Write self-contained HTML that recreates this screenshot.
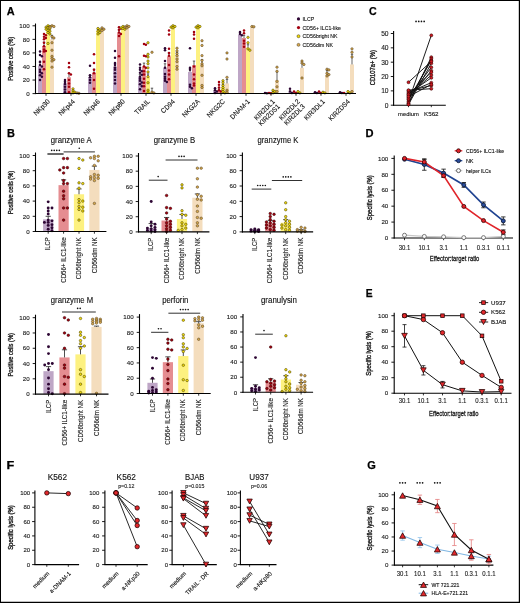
<!DOCTYPE html>
<html><head><meta charset="utf-8"><style>
html,body{margin:0;padding:0;background:#fff;}
svg{display:block;will-change:transform;}
</style></head><body>
<svg width="520" height="603" viewBox="0 0 520 603">
<rect x="0" y="0" width="520" height="603" fill="#fff"/>
<g font-family='"Liberation Sans", sans-serif' fill="#111">
<text x="6.88" y="14.5" font-size="10.9" font-weight="bold" textLength="7.88" lengthAdjust="spacingAndGlyphs" fill="#000" stroke="#000" stroke-width="0.25">A</text>
<line x1="35.5" y1="23.5" x2="35.5" y2="94.1" stroke="#000" stroke-width="1.1"/>
<line x1="32.5" y1="93.6" x2="35.5" y2="93.6" stroke="#000" stroke-width="0.9"/>
<text x="29.6" y="95.82" font-size="6.2" text-anchor="end" fill="#1a1a1a" stroke="#1a1a1a" stroke-width="0.12">0</text>
<line x1="32.5" y1="80.04" x2="35.5" y2="80.04" stroke="#000" stroke-width="0.9"/>
<text x="29.6" y="82.26" font-size="6.2" text-anchor="end" fill="#1a1a1a" stroke="#1a1a1a" stroke-width="0.12">20</text>
<line x1="32.5" y1="66.48" x2="35.5" y2="66.48" stroke="#000" stroke-width="0.9"/>
<text x="29.6" y="68.7" font-size="6.2" text-anchor="end" fill="#1a1a1a" stroke="#1a1a1a" stroke-width="0.12">40</text>
<line x1="32.5" y1="52.92" x2="35.5" y2="52.92" stroke="#000" stroke-width="0.9"/>
<text x="29.6" y="55.14" font-size="6.2" text-anchor="end" fill="#1a1a1a" stroke="#1a1a1a" stroke-width="0.12">60</text>
<line x1="32.5" y1="39.36" x2="35.5" y2="39.36" stroke="#000" stroke-width="0.9"/>
<text x="29.6" y="41.58" font-size="6.2" text-anchor="end" fill="#1a1a1a" stroke="#1a1a1a" stroke-width="0.12">80</text>
<line x1="32.5" y1="25.8" x2="35.5" y2="25.8" stroke="#000" stroke-width="0.9"/>
<text x="29.6" y="28.02" font-size="6.2" text-anchor="end" fill="#1a1a1a" stroke="#1a1a1a" stroke-width="0.12">100</text>
<text x="12.8" y="58.8" font-size="6.6" text-anchor="middle" transform="rotate(-90 12.8 58.8)" textLength="44" lengthAdjust="spacingAndGlyphs" stroke="#111" stroke-width="0.3">Positive cells (%)</text>
<rect x="38" y="65.8" width="4" height="27.8" fill="#bea6c6"/>
<rect x="42" y="46.14" width="4" height="47.46" fill="#e58d91"/>
<rect x="46" y="27.83" width="4" height="65.77" fill="#fdf180"/>
<rect x="50" y="39.36" width="4" height="54.24" fill="#f4ddbd"/>
<line x1="40" y1="65.8" x2="40" y2="62.41" stroke="#222" stroke-width="0.7"/>
<line x1="38.8" y1="62.41" x2="41.2" y2="62.41" stroke="#222" stroke-width="0.7"/>
<line x1="44" y1="46.14" x2="44" y2="42.07" stroke="#222" stroke-width="0.7"/>
<line x1="42.8" y1="42.07" x2="45.2" y2="42.07" stroke="#222" stroke-width="0.7"/>
<line x1="48" y1="27.83" x2="48" y2="26.82" stroke="#222" stroke-width="0.7"/>
<line x1="46.8" y1="26.82" x2="49.2" y2="26.82" stroke="#222" stroke-width="0.7"/>
<line x1="52" y1="39.36" x2="52" y2="35.29" stroke="#222" stroke-width="0.7"/>
<line x1="50.8" y1="35.29" x2="53.2" y2="35.29" stroke="#222" stroke-width="0.7"/>
<circle cx="40" cy="51.56" r="1.25" fill="#2d0633"/>
<circle cx="40" cy="54.95" r="1.25" fill="#2d0633"/>
<circle cx="41.9" cy="56.31" r="1.25" fill="#2d0633"/>
<circle cx="40" cy="61.73" r="1.25" fill="#2d0633"/>
<circle cx="40" cy="65.12" r="1.25" fill="#2d0633"/>
<circle cx="41.9" cy="66.48" r="1.25" fill="#2d0633"/>
<circle cx="40" cy="69.87" r="1.25" fill="#2d0633"/>
<circle cx="40" cy="71.9" r="1.25" fill="#2d0633"/>
<circle cx="41.9" cy="73.26" r="1.25" fill="#2d0633"/>
<circle cx="40" cy="75.29" r="1.25" fill="#2d0633"/>
<circle cx="41.9" cy="76.65" r="1.25" fill="#2d0633"/>
<circle cx="40" cy="80.04" r="1.25" fill="#2d0633"/>
<circle cx="44" cy="33.94" r="1.25" fill="#a3000f"/>
<circle cx="45.9" cy="35.29" r="1.25" fill="#a3000f"/>
<circle cx="44" cy="36.65" r="1.25" fill="#a3000f"/>
<circle cx="45.9" cy="38" r="1.25" fill="#a3000f"/>
<circle cx="44" cy="39.36" r="1.25" fill="#a3000f"/>
<circle cx="44" cy="42.75" r="1.25" fill="#a3000f"/>
<circle cx="44" cy="46.14" r="1.25" fill="#a3000f"/>
<circle cx="44" cy="49.53" r="1.25" fill="#a3000f"/>
<circle cx="45.9" cy="50.89" r="1.25" fill="#a3000f"/>
<circle cx="44" cy="51.56" r="1.25" fill="#a3000f"/>
<circle cx="44" cy="61.73" r="1.25" fill="#a3000f"/>
<circle cx="44" cy="69.19" r="1.25" fill="#a3000f"/>
<circle cx="48" cy="25.8" r="1.2" fill="#f4dc0a" stroke="#3a3300" stroke-width="0.5"/>
<circle cx="49.9" cy="26.48" r="1.2" fill="#f4dc0a" stroke="#3a3300" stroke-width="0.5"/>
<circle cx="46.1" cy="27.16" r="1.2" fill="#f4dc0a" stroke="#3a3300" stroke-width="0.5"/>
<circle cx="48" cy="27.83" r="1.2" fill="#f4dc0a" stroke="#3a3300" stroke-width="0.5"/>
<circle cx="49.9" cy="28.51" r="1.2" fill="#f4dc0a" stroke="#3a3300" stroke-width="0.5"/>
<circle cx="46.1" cy="29.19" r="1.2" fill="#f4dc0a" stroke="#3a3300" stroke-width="0.5"/>
<circle cx="48" cy="30.55" r="1.2" fill="#f4dc0a" stroke="#3a3300" stroke-width="0.5"/>
<circle cx="49.9" cy="31.22" r="1.2" fill="#f4dc0a" stroke="#3a3300" stroke-width="0.5"/>
<circle cx="48" cy="32.58" r="1.2" fill="#f4dc0a" stroke="#3a3300" stroke-width="0.5"/>
<circle cx="49.9" cy="33.94" r="1.2" fill="#f4dc0a" stroke="#3a3300" stroke-width="0.5"/>
<circle cx="48" cy="43.43" r="1.2" fill="#f4dc0a" stroke="#3a3300" stroke-width="0.5"/>
<circle cx="52" cy="25.8" r="1.2" fill="#d8a94c" stroke="#4a3a20" stroke-width="0.5"/>
<circle cx="53.9" cy="26.48" r="1.2" fill="#d8a94c" stroke="#4a3a20" stroke-width="0.5"/>
<circle cx="50.1" cy="27.16" r="1.2" fill="#d8a94c" stroke="#4a3a20" stroke-width="0.5"/>
<circle cx="52" cy="36.65" r="1.2" fill="#d8a94c" stroke="#4a3a20" stroke-width="0.5"/>
<circle cx="53.9" cy="38" r="1.2" fill="#d8a94c" stroke="#4a3a20" stroke-width="0.5"/>
<circle cx="52" cy="42.75" r="1.2" fill="#d8a94c" stroke="#4a3a20" stroke-width="0.5"/>
<circle cx="52" cy="50.21" r="1.2" fill="#d8a94c" stroke="#4a3a20" stroke-width="0.5"/>
<circle cx="52" cy="56.31" r="1.2" fill="#d8a94c" stroke="#4a3a20" stroke-width="0.5"/>
<circle cx="52" cy="58.34" r="1.2" fill="#d8a94c" stroke="#4a3a20" stroke-width="0.5"/>
<circle cx="53.9" cy="59.7" r="1.2" fill="#d8a94c" stroke="#4a3a20" stroke-width="0.5"/>
<circle cx="52" cy="61.06" r="1.2" fill="#d8a94c" stroke="#4a3a20" stroke-width="0.5"/>
<circle cx="52" cy="67.16" r="1.2" fill="#d8a94c" stroke="#4a3a20" stroke-width="0.5"/>
<line x1="46" y1="93.6" x2="46" y2="95.8" stroke="#000" stroke-width="0.8"/>
<text x="50.4" y="102" font-size="6.8" text-anchor="end" transform="rotate(-45 50.4 102)" textLength="19.96" lengthAdjust="spacingAndGlyphs" stroke="#111" stroke-width="0.12">NKp30</text>
<rect x="63" y="83.43" width="4" height="10.17" fill="#bea6c6"/>
<rect x="67" y="77.33" width="4" height="16.27" fill="#e58d91"/>
<rect x="71" y="90.89" width="4" height="2.71" fill="#fdf180"/>
<rect x="75" y="92.92" width="4" height="0.68" fill="#f4ddbd"/>
<line x1="65" y1="83.43" x2="65" y2="81.4" stroke="#222" stroke-width="0.7"/>
<line x1="63.8" y1="81.4" x2="66.2" y2="81.4" stroke="#222" stroke-width="0.7"/>
<line x1="69" y1="77.33" x2="69" y2="73.26" stroke="#222" stroke-width="0.7"/>
<line x1="67.8" y1="73.26" x2="70.2" y2="73.26" stroke="#222" stroke-width="0.7"/>
<line x1="73" y1="90.89" x2="73" y2="90.21" stroke="#222" stroke-width="0.7"/>
<line x1="71.8" y1="90.21" x2="74.2" y2="90.21" stroke="#222" stroke-width="0.7"/>
<line x1="77" y1="92.92" x2="77" y2="92.58" stroke="#222" stroke-width="0.7"/>
<line x1="75.8" y1="92.58" x2="78.2" y2="92.58" stroke="#222" stroke-width="0.7"/>
<circle cx="65" cy="80.04" r="1.25" fill="#2d0633"/>
<circle cx="65" cy="82.07" r="1.25" fill="#2d0633"/>
<circle cx="65" cy="84.11" r="1.25" fill="#2d0633"/>
<circle cx="65" cy="86.82" r="1.25" fill="#2d0633"/>
<circle cx="65" cy="89.53" r="1.25" fill="#2d0633"/>
<circle cx="65" cy="92.24" r="1.25" fill="#2d0633"/>
<circle cx="69" cy="63.09" r="1.25" fill="#a3000f"/>
<circle cx="69" cy="67.16" r="1.25" fill="#a3000f"/>
<circle cx="69" cy="73.26" r="1.25" fill="#a3000f"/>
<circle cx="70.9" cy="74.62" r="1.25" fill="#a3000f"/>
<circle cx="69" cy="80.04" r="1.25" fill="#a3000f"/>
<circle cx="69" cy="83.43" r="1.25" fill="#a3000f"/>
<circle cx="69" cy="86.82" r="1.25" fill="#a3000f"/>
<circle cx="69" cy="92.24" r="1.25" fill="#a3000f"/>
<circle cx="73" cy="88.85" r="1.2" fill="#f4dc0a" stroke="#3a3300" stroke-width="0.5"/>
<circle cx="73" cy="90.89" r="1.2" fill="#f4dc0a" stroke="#3a3300" stroke-width="0.5"/>
<circle cx="74.9" cy="92.24" r="1.2" fill="#f4dc0a" stroke="#3a3300" stroke-width="0.5"/>
<circle cx="73" cy="92.92" r="1.2" fill="#f4dc0a" stroke="#3a3300" stroke-width="0.5"/>
<circle cx="77" cy="92.92" r="1.2" fill="#d8a94c" stroke="#4a3a20" stroke-width="0.5"/>
<circle cx="78.9" cy="93.26" r="1.2" fill="#d8a94c" stroke="#4a3a20" stroke-width="0.5"/>
<line x1="71" y1="93.6" x2="71" y2="95.8" stroke="#000" stroke-width="0.8"/>
<text x="75.4" y="102" font-size="6.8" text-anchor="end" transform="rotate(-45 75.4 102)" textLength="19.96" lengthAdjust="spacingAndGlyphs" stroke="#111" stroke-width="0.12">NKp44</text>
<rect x="88" y="77.33" width="4" height="16.27" fill="#bea6c6"/>
<rect x="92" y="72.58" width="4" height="21.02" fill="#e58d91"/>
<rect x="96" y="30.55" width="4" height="63.05" fill="#fdf180"/>
<rect x="100" y="29.19" width="4" height="64.41" fill="#f4ddbd"/>
<line x1="90" y1="77.33" x2="90" y2="75.29" stroke="#222" stroke-width="0.7"/>
<line x1="88.8" y1="75.29" x2="91.2" y2="75.29" stroke="#222" stroke-width="0.7"/>
<line x1="94" y1="72.58" x2="94" y2="69.19" stroke="#222" stroke-width="0.7"/>
<line x1="92.8" y1="69.19" x2="95.2" y2="69.19" stroke="#222" stroke-width="0.7"/>
<line x1="98" y1="30.55" x2="98" y2="29.19" stroke="#222" stroke-width="0.7"/>
<line x1="96.8" y1="29.19" x2="99.2" y2="29.19" stroke="#222" stroke-width="0.7"/>
<line x1="102" y1="29.19" x2="102" y2="28.51" stroke="#222" stroke-width="0.7"/>
<line x1="100.8" y1="28.51" x2="103.2" y2="28.51" stroke="#222" stroke-width="0.7"/>
<circle cx="90" cy="65.8" r="1.25" fill="#2d0633"/>
<circle cx="90" cy="75.29" r="1.25" fill="#2d0633"/>
<circle cx="90" cy="77.33" r="1.25" fill="#2d0633"/>
<circle cx="90" cy="80.04" r="1.25" fill="#2d0633"/>
<circle cx="90" cy="82.75" r="1.25" fill="#2d0633"/>
<circle cx="94" cy="54.28" r="1.25" fill="#a3000f"/>
<circle cx="94" cy="63.09" r="1.25" fill="#a3000f"/>
<circle cx="94" cy="69.87" r="1.25" fill="#a3000f"/>
<circle cx="94" cy="73.26" r="1.25" fill="#a3000f"/>
<circle cx="94" cy="80.04" r="1.25" fill="#a3000f"/>
<circle cx="94" cy="88.85" r="1.25" fill="#a3000f"/>
<circle cx="98" cy="28.51" r="1.2" fill="#f4dc0a" stroke="#3a3300" stroke-width="0.5"/>
<circle cx="99.9" cy="29.87" r="1.2" fill="#f4dc0a" stroke="#3a3300" stroke-width="0.5"/>
<circle cx="98" cy="31.22" r="1.2" fill="#f4dc0a" stroke="#3a3300" stroke-width="0.5"/>
<circle cx="99.9" cy="32.58" r="1.2" fill="#f4dc0a" stroke="#3a3300" stroke-width="0.5"/>
<circle cx="98" cy="33.94" r="1.2" fill="#f4dc0a" stroke="#3a3300" stroke-width="0.5"/>
<circle cx="102" cy="27.83" r="1.2" fill="#d8a94c" stroke="#4a3a20" stroke-width="0.5"/>
<circle cx="103.9" cy="29.19" r="1.2" fill="#d8a94c" stroke="#4a3a20" stroke-width="0.5"/>
<circle cx="102" cy="30.55" r="1.2" fill="#d8a94c" stroke="#4a3a20" stroke-width="0.5"/>
<line x1="96" y1="93.6" x2="96" y2="95.8" stroke="#000" stroke-width="0.8"/>
<text x="100.4" y="102" font-size="6.8" text-anchor="end" transform="rotate(-45 100.4 102)" textLength="19.96" lengthAdjust="spacingAndGlyphs" stroke="#111" stroke-width="0.12">NKp46</text>
<rect x="113" y="66.48" width="4" height="27.12" fill="#bea6c6"/>
<rect x="117" y="32.58" width="4" height="61.02" fill="#e58d91"/>
<rect x="121" y="28.51" width="4" height="65.09" fill="#fdf180"/>
<rect x="125" y="27.16" width="4" height="66.44" fill="#f4ddbd"/>
<line x1="115" y1="66.48" x2="115" y2="63.77" stroke="#222" stroke-width="0.7"/>
<line x1="113.8" y1="63.77" x2="116.2" y2="63.77" stroke="#222" stroke-width="0.7"/>
<line x1="119" y1="32.58" x2="119" y2="29.87" stroke="#222" stroke-width="0.7"/>
<line x1="117.8" y1="29.87" x2="120.2" y2="29.87" stroke="#222" stroke-width="0.7"/>
<line x1="123" y1="28.51" x2="123" y2="27.83" stroke="#222" stroke-width="0.7"/>
<line x1="121.8" y1="27.83" x2="124.2" y2="27.83" stroke="#222" stroke-width="0.7"/>
<line x1="127" y1="27.16" x2="127" y2="26.48" stroke="#222" stroke-width="0.7"/>
<line x1="125.8" y1="26.48" x2="128.2" y2="26.48" stroke="#222" stroke-width="0.7"/>
<circle cx="115" cy="50.89" r="1.25" fill="#2d0633"/>
<circle cx="115" cy="57.67" r="1.25" fill="#2d0633"/>
<circle cx="115" cy="63.09" r="1.25" fill="#2d0633"/>
<circle cx="115" cy="65.12" r="1.25" fill="#2d0633"/>
<circle cx="115" cy="67.84" r="1.25" fill="#2d0633"/>
<circle cx="115" cy="69.87" r="1.25" fill="#2d0633"/>
<circle cx="115" cy="73.26" r="1.25" fill="#2d0633"/>
<circle cx="115" cy="76.65" r="1.25" fill="#2d0633"/>
<circle cx="115" cy="80.04" r="1.25" fill="#2d0633"/>
<circle cx="115" cy="83.43" r="1.25" fill="#2d0633"/>
<circle cx="119" cy="27.16" r="1.25" fill="#a3000f"/>
<circle cx="120.9" cy="28.51" r="1.25" fill="#a3000f"/>
<circle cx="119" cy="29.87" r="1.25" fill="#a3000f"/>
<circle cx="119" cy="32.58" r="1.25" fill="#a3000f"/>
<circle cx="120.9" cy="33.94" r="1.25" fill="#a3000f"/>
<circle cx="119" cy="35.97" r="1.25" fill="#a3000f"/>
<circle cx="119" cy="56.31" r="1.25" fill="#a3000f"/>
<circle cx="123" cy="26.48" r="1.2" fill="#f4dc0a" stroke="#3a3300" stroke-width="0.5"/>
<circle cx="124.9" cy="27.16" r="1.2" fill="#f4dc0a" stroke="#3a3300" stroke-width="0.5"/>
<circle cx="121.1" cy="27.83" r="1.2" fill="#f4dc0a" stroke="#3a3300" stroke-width="0.5"/>
<circle cx="123" cy="28.51" r="1.2" fill="#f4dc0a" stroke="#3a3300" stroke-width="0.5"/>
<circle cx="124.9" cy="29.19" r="1.2" fill="#f4dc0a" stroke="#3a3300" stroke-width="0.5"/>
<circle cx="127" cy="25.8" r="1.2" fill="#d8a94c" stroke="#4a3a20" stroke-width="0.5"/>
<circle cx="128.9" cy="26.48" r="1.2" fill="#d8a94c" stroke="#4a3a20" stroke-width="0.5"/>
<circle cx="125.1" cy="27.16" r="1.2" fill="#d8a94c" stroke="#4a3a20" stroke-width="0.5"/>
<circle cx="127" cy="27.83" r="1.2" fill="#d8a94c" stroke="#4a3a20" stroke-width="0.5"/>
<line x1="121" y1="93.6" x2="121" y2="95.8" stroke="#000" stroke-width="0.8"/>
<text x="125.4" y="102" font-size="6.8" text-anchor="end" transform="rotate(-45 125.4 102)" textLength="19.96" lengthAdjust="spacingAndGlyphs" stroke="#111" stroke-width="0.12">NKp80</text>
<rect x="138" y="76.65" width="4" height="16.95" fill="#bea6c6"/>
<rect x="142" y="66.48" width="4" height="27.12" fill="#e58d91"/>
<rect x="146" y="77.33" width="4" height="16.27" fill="#fdf180"/>
<rect x="150" y="91.57" width="4" height="2.03" fill="#f4ddbd"/>
<line x1="140" y1="76.65" x2="140" y2="74.62" stroke="#222" stroke-width="0.7"/>
<line x1="138.8" y1="74.62" x2="141.2" y2="74.62" stroke="#222" stroke-width="0.7"/>
<line x1="144" y1="66.48" x2="144" y2="63.09" stroke="#222" stroke-width="0.7"/>
<line x1="142.8" y1="63.09" x2="145.2" y2="63.09" stroke="#222" stroke-width="0.7"/>
<line x1="148" y1="77.33" x2="148" y2="73.94" stroke="#222" stroke-width="0.7"/>
<line x1="146.8" y1="73.94" x2="149.2" y2="73.94" stroke="#222" stroke-width="0.7"/>
<line x1="152" y1="91.57" x2="152" y2="88.18" stroke="#222" stroke-width="0.7"/>
<line x1="150.8" y1="88.18" x2="153.2" y2="88.18" stroke="#222" stroke-width="0.7"/>
<circle cx="140" cy="64.45" r="1.25" fill="#2d0633"/>
<circle cx="140" cy="67.84" r="1.25" fill="#2d0633"/>
<circle cx="140" cy="69.87" r="1.25" fill="#2d0633"/>
<circle cx="141.9" cy="71.23" r="1.25" fill="#2d0633"/>
<circle cx="140" cy="72.85" r="1.25" fill="#2d0633"/>
<circle cx="141.9" cy="74.75" r="1.25" fill="#2d0633"/>
<circle cx="140" cy="76.65" r="1.25" fill="#2d0633"/>
<circle cx="140" cy="78.68" r="1.25" fill="#2d0633"/>
<circle cx="140" cy="80.72" r="1.25" fill="#2d0633"/>
<circle cx="141.9" cy="82.41" r="1.25" fill="#2d0633"/>
<circle cx="140" cy="84.31" r="1.25" fill="#2d0633"/>
<circle cx="141.9" cy="86.14" r="1.25" fill="#2d0633"/>
<circle cx="140" cy="89.13" r="1.25" fill="#2d0633"/>
<circle cx="144" cy="44.11" r="1.25" fill="#a3000f"/>
<circle cx="145.9" cy="44.78" r="1.25" fill="#a3000f"/>
<circle cx="144" cy="55.63" r="1.25" fill="#a3000f"/>
<circle cx="145.9" cy="56.31" r="1.25" fill="#a3000f"/>
<circle cx="144" cy="66.48" r="1.25" fill="#a3000f"/>
<circle cx="145.9" cy="67.84" r="1.25" fill="#a3000f"/>
<circle cx="144" cy="71.23" r="1.25" fill="#a3000f"/>
<circle cx="144" cy="74.62" r="1.25" fill="#a3000f"/>
<circle cx="144" cy="78.68" r="1.25" fill="#a3000f"/>
<circle cx="144" cy="82.75" r="1.25" fill="#a3000f"/>
<circle cx="144" cy="86.14" r="1.25" fill="#a3000f"/>
<circle cx="144" cy="90.89" r="1.25" fill="#a3000f"/>
<circle cx="148" cy="42.75" r="1.2" fill="#f4dc0a" stroke="#3a3300" stroke-width="0.5"/>
<circle cx="148" cy="54.28" r="1.2" fill="#f4dc0a" stroke="#3a3300" stroke-width="0.5"/>
<circle cx="148" cy="56.99" r="1.2" fill="#f4dc0a" stroke="#3a3300" stroke-width="0.5"/>
<circle cx="148" cy="61.06" r="1.2" fill="#f4dc0a" stroke="#3a3300" stroke-width="0.5"/>
<circle cx="148" cy="63.77" r="1.2" fill="#f4dc0a" stroke="#3a3300" stroke-width="0.5"/>
<circle cx="148" cy="67.84" r="1.2" fill="#f4dc0a" stroke="#3a3300" stroke-width="0.5"/>
<circle cx="148" cy="71.9" r="1.2" fill="#f4dc0a" stroke="#3a3300" stroke-width="0.5"/>
<circle cx="148" cy="76.65" r="1.2" fill="#f4dc0a" stroke="#3a3300" stroke-width="0.5"/>
<circle cx="148" cy="82.75" r="1.2" fill="#f4dc0a" stroke="#3a3300" stroke-width="0.5"/>
<circle cx="148" cy="90.21" r="1.2" fill="#f4dc0a" stroke="#3a3300" stroke-width="0.5"/>
<circle cx="148" cy="92.24" r="1.2" fill="#f4dc0a" stroke="#3a3300" stroke-width="0.5"/>
<circle cx="152" cy="52.24" r="1.2" fill="#d8a94c" stroke="#4a3a20" stroke-width="0.5"/>
<circle cx="152" cy="92.24" r="1.2" fill="#d8a94c" stroke="#4a3a20" stroke-width="0.5"/>
<circle cx="153.9" cy="92.92" r="1.2" fill="#d8a94c" stroke="#4a3a20" stroke-width="0.5"/>
<line x1="146" y1="93.6" x2="146" y2="95.8" stroke="#000" stroke-width="0.8"/>
<text x="150.4" y="102" font-size="6.8" text-anchor="end" transform="rotate(-45 150.4 102)" textLength="18.5" lengthAdjust="spacingAndGlyphs" stroke="#111" stroke-width="0.12">TRAIL</text>
<rect x="163" y="67.84" width="4" height="25.76" fill="#bea6c6"/>
<rect x="167" y="56.31" width="4" height="37.29" fill="#e58d91"/>
<rect x="171" y="25.8" width="4" height="67.8" fill="#fdf180"/>
<rect x="175" y="54.95" width="4" height="38.65" fill="#f4ddbd"/>
<line x1="165" y1="67.84" x2="165" y2="63.77" stroke="#222" stroke-width="0.7"/>
<line x1="163.8" y1="63.77" x2="166.2" y2="63.77" stroke="#222" stroke-width="0.7"/>
<line x1="169" y1="56.31" x2="169" y2="52.92" stroke="#222" stroke-width="0.7"/>
<line x1="167.8" y1="52.92" x2="170.2" y2="52.92" stroke="#222" stroke-width="0.7"/>
<line x1="173" y1="25.8" x2="173" y2="25.46" stroke="#222" stroke-width="0.7"/>
<line x1="171.8" y1="25.46" x2="174.2" y2="25.46" stroke="#222" stroke-width="0.7"/>
<line x1="177" y1="54.95" x2="177" y2="52.24" stroke="#222" stroke-width="0.7"/>
<line x1="175.8" y1="52.24" x2="178.2" y2="52.24" stroke="#222" stroke-width="0.7"/>
<circle cx="165" cy="48.17" r="1.25" fill="#2d0633"/>
<circle cx="165" cy="50.21" r="1.25" fill="#2d0633"/>
<circle cx="165" cy="61.06" r="1.25" fill="#2d0633"/>
<circle cx="165" cy="67.84" r="1.25" fill="#2d0633"/>
<circle cx="165" cy="73.94" r="1.25" fill="#2d0633"/>
<circle cx="165" cy="76.65" r="1.25" fill="#2d0633"/>
<circle cx="165" cy="78.68" r="1.25" fill="#2d0633"/>
<circle cx="165" cy="80.72" r="1.25" fill="#2d0633"/>
<circle cx="166.9" cy="82.07" r="1.25" fill="#2d0633"/>
<circle cx="169" cy="30.55" r="1.25" fill="#a3000f"/>
<circle cx="169" cy="34.61" r="1.25" fill="#a3000f"/>
<circle cx="169" cy="48.85" r="1.25" fill="#a3000f"/>
<circle cx="169" cy="52.92" r="1.25" fill="#a3000f"/>
<circle cx="169" cy="55.63" r="1.25" fill="#a3000f"/>
<circle cx="169" cy="65.12" r="1.25" fill="#a3000f"/>
<circle cx="169" cy="70.55" r="1.25" fill="#a3000f"/>
<circle cx="169" cy="74.62" r="1.25" fill="#a3000f"/>
<circle cx="169" cy="79.36" r="1.25" fill="#a3000f"/>
<circle cx="173" cy="25.8" r="1.2" fill="#f4dc0a" stroke="#3a3300" stroke-width="0.5"/>
<circle cx="174.9" cy="26.48" r="1.2" fill="#f4dc0a" stroke="#3a3300" stroke-width="0.5"/>
<circle cx="171.1" cy="27.16" r="1.2" fill="#f4dc0a" stroke="#3a3300" stroke-width="0.5"/>
<circle cx="173" cy="27.83" r="1.2" fill="#f4dc0a" stroke="#3a3300" stroke-width="0.5"/>
<circle cx="177" cy="48.17" r="1.2" fill="#d8a94c" stroke="#4a3a20" stroke-width="0.5"/>
<circle cx="177" cy="50.89" r="1.2" fill="#d8a94c" stroke="#4a3a20" stroke-width="0.5"/>
<circle cx="177" cy="53.6" r="1.2" fill="#d8a94c" stroke="#4a3a20" stroke-width="0.5"/>
<circle cx="177" cy="55.63" r="1.2" fill="#d8a94c" stroke="#4a3a20" stroke-width="0.5"/>
<circle cx="177" cy="59.02" r="1.2" fill="#d8a94c" stroke="#4a3a20" stroke-width="0.5"/>
<circle cx="177" cy="61.73" r="1.2" fill="#d8a94c" stroke="#4a3a20" stroke-width="0.5"/>
<circle cx="177" cy="66.48" r="1.2" fill="#d8a94c" stroke="#4a3a20" stroke-width="0.5"/>
<circle cx="177" cy="69.19" r="1.2" fill="#d8a94c" stroke="#4a3a20" stroke-width="0.5"/>
<line x1="171" y1="93.6" x2="171" y2="95.8" stroke="#000" stroke-width="0.8"/>
<text x="175.4" y="102" font-size="6.8" text-anchor="end" transform="rotate(-45 175.4 102)" textLength="16.69" lengthAdjust="spacingAndGlyphs" stroke="#111" stroke-width="0.12">CD94</text>
<rect x="188" y="71.9" width="4" height="21.7" fill="#bea6c6"/>
<rect x="192" y="65.12" width="4" height="28.48" fill="#e58d91"/>
<rect x="196" y="25.8" width="4" height="67.8" fill="#fdf180"/>
<rect x="200" y="63.77" width="4" height="29.83" fill="#f4ddbd"/>
<line x1="190" y1="71.9" x2="190" y2="68.51" stroke="#222" stroke-width="0.7"/>
<line x1="188.8" y1="68.51" x2="191.2" y2="68.51" stroke="#222" stroke-width="0.7"/>
<line x1="194" y1="65.12" x2="194" y2="61.06" stroke="#222" stroke-width="0.7"/>
<line x1="192.8" y1="61.06" x2="195.2" y2="61.06" stroke="#222" stroke-width="0.7"/>
<line x1="198" y1="25.8" x2="198" y2="25.46" stroke="#222" stroke-width="0.7"/>
<line x1="196.8" y1="25.46" x2="199.2" y2="25.46" stroke="#222" stroke-width="0.7"/>
<line x1="202" y1="63.77" x2="202" y2="59.7" stroke="#222" stroke-width="0.7"/>
<line x1="200.8" y1="59.7" x2="203.2" y2="59.7" stroke="#222" stroke-width="0.7"/>
<circle cx="190" cy="48.17" r="1.25" fill="#2d0633"/>
<circle cx="190" cy="67.84" r="1.25" fill="#2d0633"/>
<circle cx="190" cy="69.87" r="1.25" fill="#2d0633"/>
<circle cx="190" cy="84.79" r="1.25" fill="#2d0633"/>
<circle cx="190" cy="86.82" r="1.25" fill="#2d0633"/>
<circle cx="191.9" cy="88.18" r="1.25" fill="#2d0633"/>
<circle cx="194" cy="31.9" r="1.25" fill="#a3000f"/>
<circle cx="194" cy="34.61" r="1.25" fill="#a3000f"/>
<circle cx="194" cy="38.68" r="1.25" fill="#a3000f"/>
<circle cx="194" cy="66.48" r="1.25" fill="#a3000f"/>
<circle cx="194" cy="74.62" r="1.25" fill="#a3000f"/>
<circle cx="194" cy="79.36" r="1.25" fill="#a3000f"/>
<circle cx="194" cy="83.43" r="1.25" fill="#a3000f"/>
<circle cx="194" cy="85.46" r="1.25" fill="#a3000f"/>
<circle cx="198" cy="25.8" r="1.2" fill="#f4dc0a" stroke="#3a3300" stroke-width="0.5"/>
<circle cx="199.9" cy="26.48" r="1.2" fill="#f4dc0a" stroke="#3a3300" stroke-width="0.5"/>
<circle cx="196.1" cy="27.16" r="1.2" fill="#f4dc0a" stroke="#3a3300" stroke-width="0.5"/>
<circle cx="198" cy="27.83" r="1.2" fill="#f4dc0a" stroke="#3a3300" stroke-width="0.5"/>
<circle cx="202" cy="40.72" r="1.2" fill="#d8a94c" stroke="#4a3a20" stroke-width="0.5"/>
<circle cx="202" cy="45.46" r="1.2" fill="#d8a94c" stroke="#4a3a20" stroke-width="0.5"/>
<circle cx="202" cy="55.63" r="1.2" fill="#d8a94c" stroke="#4a3a20" stroke-width="0.5"/>
<circle cx="202" cy="60.38" r="1.2" fill="#d8a94c" stroke="#4a3a20" stroke-width="0.5"/>
<circle cx="202" cy="63.77" r="1.2" fill="#d8a94c" stroke="#4a3a20" stroke-width="0.5"/>
<circle cx="202" cy="65.8" r="1.2" fill="#d8a94c" stroke="#4a3a20" stroke-width="0.5"/>
<circle cx="202" cy="75.29" r="1.2" fill="#d8a94c" stroke="#4a3a20" stroke-width="0.5"/>
<circle cx="202" cy="85.46" r="1.2" fill="#d8a94c" stroke="#4a3a20" stroke-width="0.5"/>
<circle cx="202" cy="87.5" r="1.2" fill="#d8a94c" stroke="#4a3a20" stroke-width="0.5"/>
<line x1="196" y1="93.6" x2="196" y2="95.8" stroke="#000" stroke-width="0.8"/>
<text x="200.4" y="102" font-size="6.8" text-anchor="end" transform="rotate(-45 200.4 102)" textLength="22.13" lengthAdjust="spacingAndGlyphs" stroke="#111" stroke-width="0.12">NKG2A</text>
<rect x="213" y="90.89" width="4" height="2.71" fill="#bea6c6"/>
<rect x="217" y="90.21" width="4" height="3.39" fill="#e58d91"/>
<rect x="221" y="86.82" width="4" height="6.78" fill="#fdf180"/>
<rect x="225" y="83.43" width="4" height="10.17" fill="#f4ddbd"/>
<line x1="215" y1="90.89" x2="215" y2="90.21" stroke="#222" stroke-width="0.7"/>
<line x1="213.8" y1="90.21" x2="216.2" y2="90.21" stroke="#222" stroke-width="0.7"/>
<line x1="219" y1="90.21" x2="219" y2="88.85" stroke="#222" stroke-width="0.7"/>
<line x1="217.8" y1="88.85" x2="220.2" y2="88.85" stroke="#222" stroke-width="0.7"/>
<line x1="223" y1="86.82" x2="223" y2="84.79" stroke="#222" stroke-width="0.7"/>
<line x1="221.8" y1="84.79" x2="224.2" y2="84.79" stroke="#222" stroke-width="0.7"/>
<line x1="227" y1="83.43" x2="227" y2="79.36" stroke="#222" stroke-width="0.7"/>
<line x1="225.8" y1="79.36" x2="228.2" y2="79.36" stroke="#222" stroke-width="0.7"/>
<circle cx="215" cy="88.18" r="1.25" fill="#2d0633"/>
<circle cx="215" cy="90.21" r="1.25" fill="#2d0633"/>
<circle cx="216.9" cy="91.57" r="1.25" fill="#2d0633"/>
<circle cx="215" cy="92.92" r="1.25" fill="#2d0633"/>
<circle cx="219" cy="82.07" r="1.25" fill="#a3000f"/>
<circle cx="219" cy="84.79" r="1.25" fill="#a3000f"/>
<circle cx="219" cy="87.5" r="1.25" fill="#a3000f"/>
<circle cx="219" cy="90.21" r="1.25" fill="#a3000f"/>
<circle cx="220.9" cy="91.57" r="1.25" fill="#a3000f"/>
<circle cx="223" cy="80.72" r="1.2" fill="#f4dc0a" stroke="#3a3300" stroke-width="0.5"/>
<circle cx="223" cy="82.75" r="1.2" fill="#f4dc0a" stroke="#3a3300" stroke-width="0.5"/>
<circle cx="223" cy="85.46" r="1.2" fill="#f4dc0a" stroke="#3a3300" stroke-width="0.5"/>
<circle cx="223" cy="87.5" r="1.2" fill="#f4dc0a" stroke="#3a3300" stroke-width="0.5"/>
<circle cx="223" cy="89.53" r="1.2" fill="#f4dc0a" stroke="#3a3300" stroke-width="0.5"/>
<circle cx="223" cy="91.57" r="1.2" fill="#f4dc0a" stroke="#3a3300" stroke-width="0.5"/>
<circle cx="224.9" cy="92.92" r="1.2" fill="#f4dc0a" stroke="#3a3300" stroke-width="0.5"/>
<circle cx="227" cy="52.92" r="1.2" fill="#d8a94c" stroke="#4a3a20" stroke-width="0.5"/>
<circle cx="227" cy="59.02" r="1.2" fill="#d8a94c" stroke="#4a3a20" stroke-width="0.5"/>
<circle cx="227" cy="77.33" r="1.2" fill="#d8a94c" stroke="#4a3a20" stroke-width="0.5"/>
<circle cx="227" cy="90.21" r="1.2" fill="#d8a94c" stroke="#4a3a20" stroke-width="0.5"/>
<circle cx="227" cy="92.24" r="1.2" fill="#d8a94c" stroke="#4a3a20" stroke-width="0.5"/>
<line x1="221" y1="93.6" x2="221" y2="95.8" stroke="#000" stroke-width="0.8"/>
<text x="225.4" y="102" font-size="6.8" text-anchor="end" transform="rotate(-45 225.4 102)" textLength="22.49" lengthAdjust="spacingAndGlyphs" stroke="#111" stroke-width="0.12">NKG2C</text>
<rect x="238" y="34.61" width="4" height="58.99" fill="#bea6c6"/>
<rect x="242" y="38" width="4" height="55.6" fill="#e58d91"/>
<rect x="246" y="47.5" width="4" height="46.1" fill="#fdf180"/>
<rect x="250" y="26.82" width="4" height="66.78" fill="#f4ddbd"/>
<line x1="240" y1="34.61" x2="240" y2="32.58" stroke="#222" stroke-width="0.7"/>
<line x1="238.8" y1="32.58" x2="241.2" y2="32.58" stroke="#222" stroke-width="0.7"/>
<line x1="244" y1="38" x2="244" y2="35.29" stroke="#222" stroke-width="0.7"/>
<line x1="242.8" y1="35.29" x2="245.2" y2="35.29" stroke="#222" stroke-width="0.7"/>
<line x1="248" y1="47.5" x2="248" y2="44.78" stroke="#222" stroke-width="0.7"/>
<line x1="246.8" y1="44.78" x2="249.2" y2="44.78" stroke="#222" stroke-width="0.7"/>
<line x1="252" y1="26.82" x2="252" y2="26.48" stroke="#222" stroke-width="0.7"/>
<line x1="250.8" y1="26.48" x2="253.2" y2="26.48" stroke="#222" stroke-width="0.7"/>
<circle cx="240" cy="31.9" r="1.25" fill="#2d0633"/>
<circle cx="240" cy="33.94" r="1.25" fill="#2d0633"/>
<circle cx="241.9" cy="35.29" r="1.25" fill="#2d0633"/>
<circle cx="244" cy="30.55" r="1.25" fill="#a3000f"/>
<circle cx="244" cy="33.26" r="1.25" fill="#a3000f"/>
<circle cx="244" cy="40.72" r="1.25" fill="#a3000f"/>
<circle cx="244" cy="43.43" r="1.25" fill="#a3000f"/>
<circle cx="244" cy="46.82" r="1.25" fill="#a3000f"/>
<circle cx="248" cy="37.33" r="1.2" fill="#f4dc0a" stroke="#3a3300" stroke-width="0.5"/>
<circle cx="248" cy="42.75" r="1.2" fill="#f4dc0a" stroke="#3a3300" stroke-width="0.5"/>
<circle cx="248" cy="48.85" r="1.2" fill="#f4dc0a" stroke="#3a3300" stroke-width="0.5"/>
<circle cx="249.9" cy="50.21" r="1.2" fill="#f4dc0a" stroke="#3a3300" stroke-width="0.5"/>
<circle cx="252" cy="26.48" r="1.2" fill="#d8a94c" stroke="#4a3a20" stroke-width="0.5"/>
<circle cx="253.9" cy="26.82" r="1.2" fill="#d8a94c" stroke="#4a3a20" stroke-width="0.5"/>
<line x1="246" y1="93.6" x2="246" y2="95.8" stroke="#000" stroke-width="0.8"/>
<text x="250.4" y="102" font-size="6.8" text-anchor="end" transform="rotate(-45 250.4 102)" textLength="25.02" lengthAdjust="spacingAndGlyphs" stroke="#111" stroke-width="0.12">DNAM-1</text>
<rect x="263" y="93.26" width="4" height="0.34" fill="#bea6c6"/>
<rect x="267" y="93.26" width="4" height="0.34" fill="#e58d91"/>
<rect x="271" y="92.24" width="4" height="1.36" fill="#fdf180"/>
<rect x="275" y="80.04" width="4" height="13.56" fill="#f4ddbd"/>
<line x1="273" y1="92.24" x2="273" y2="91.57" stroke="#222" stroke-width="0.7"/>
<line x1="271.8" y1="91.57" x2="274.2" y2="91.57" stroke="#222" stroke-width="0.7"/>
<line x1="277" y1="80.04" x2="277" y2="71.9" stroke="#222" stroke-width="0.7"/>
<line x1="275.8" y1="71.9" x2="278.2" y2="71.9" stroke="#222" stroke-width="0.7"/>
<circle cx="265" cy="92.92" r="1.25" fill="#2d0633"/>
<circle cx="266.9" cy="93.26" r="1.25" fill="#2d0633"/>
<circle cx="269" cy="92.92" r="1.25" fill="#a3000f"/>
<circle cx="270.9" cy="93.26" r="1.25" fill="#a3000f"/>
<circle cx="273" cy="90.21" r="1.2" fill="#f4dc0a" stroke="#3a3300" stroke-width="0.5"/>
<circle cx="274.9" cy="91.57" r="1.2" fill="#f4dc0a" stroke="#3a3300" stroke-width="0.5"/>
<circle cx="273" cy="92.92" r="1.2" fill="#f4dc0a" stroke="#3a3300" stroke-width="0.5"/>
<circle cx="277" cy="67.16" r="1.2" fill="#d8a94c" stroke="#4a3a20" stroke-width="0.5"/>
<circle cx="277" cy="71.23" r="1.2" fill="#d8a94c" stroke="#4a3a20" stroke-width="0.5"/>
<circle cx="277" cy="81.4" r="1.2" fill="#d8a94c" stroke="#4a3a20" stroke-width="0.5"/>
<circle cx="277" cy="86.82" r="1.2" fill="#d8a94c" stroke="#4a3a20" stroke-width="0.5"/>
<circle cx="277" cy="91.57" r="1.2" fill="#d8a94c" stroke="#4a3a20" stroke-width="0.5"/>
<line x1="271" y1="93.6" x2="271" y2="95.8" stroke="#000" stroke-width="0.8"/>
<text x="275.4" y="102" font-size="6.8" text-anchor="end" transform="rotate(-45 275.4 102)" textLength="26.49" lengthAdjust="spacingAndGlyphs" stroke="#111" stroke-width="0.12">KIR2DL1</text>
<text x="280.4" y="107" font-size="6.8" text-anchor="end" transform="rotate(-45 280.4 107)" textLength="27.21" lengthAdjust="spacingAndGlyphs" stroke="#111" stroke-width="0.12">KIR2DS1</text>
<rect x="288" y="92.24" width="4" height="1.36" fill="#bea6c6"/>
<rect x="292" y="92.92" width="4" height="0.68" fill="#e58d91"/>
<rect x="296" y="92.92" width="4" height="0.68" fill="#fdf180"/>
<rect x="300" y="67.84" width="4" height="25.76" fill="#f4ddbd"/>
<line x1="290" y1="92.24" x2="290" y2="90.89" stroke="#222" stroke-width="0.7"/>
<line x1="288.8" y1="90.89" x2="291.2" y2="90.89" stroke="#222" stroke-width="0.7"/>
<line x1="294" y1="92.92" x2="294" y2="92.58" stroke="#222" stroke-width="0.7"/>
<line x1="292.8" y1="92.58" x2="295.2" y2="92.58" stroke="#222" stroke-width="0.7"/>
<line x1="298" y1="92.92" x2="298" y2="92.58" stroke="#222" stroke-width="0.7"/>
<line x1="296.8" y1="92.58" x2="299.2" y2="92.58" stroke="#222" stroke-width="0.7"/>
<line x1="302" y1="67.84" x2="302" y2="63.09" stroke="#222" stroke-width="0.7"/>
<line x1="300.8" y1="63.09" x2="303.2" y2="63.09" stroke="#222" stroke-width="0.7"/>
<circle cx="290" cy="88.85" r="1.25" fill="#2d0633"/>
<circle cx="290" cy="91.57" r="1.25" fill="#2d0633"/>
<circle cx="291.9" cy="92.92" r="1.25" fill="#2d0633"/>
<circle cx="294" cy="91.57" r="1.25" fill="#a3000f"/>
<circle cx="295.9" cy="92.92" r="1.25" fill="#a3000f"/>
<circle cx="298" cy="91.57" r="1.2" fill="#f4dc0a" stroke="#3a3300" stroke-width="0.5"/>
<circle cx="299.9" cy="92.92" r="1.2" fill="#f4dc0a" stroke="#3a3300" stroke-width="0.5"/>
<circle cx="302" cy="61.06" r="1.2" fill="#d8a94c" stroke="#4a3a20" stroke-width="0.5"/>
<circle cx="302" cy="63.09" r="1.2" fill="#d8a94c" stroke="#4a3a20" stroke-width="0.5"/>
<circle cx="303.9" cy="64.45" r="1.2" fill="#d8a94c" stroke="#4a3a20" stroke-width="0.5"/>
<circle cx="302" cy="78.01" r="1.2" fill="#d8a94c" stroke="#4a3a20" stroke-width="0.5"/>
<line x1="296" y1="93.6" x2="296" y2="95.8" stroke="#000" stroke-width="0.8"/>
<text x="300.4" y="102" font-size="6.8" text-anchor="end" transform="rotate(-45 300.4 102)" textLength="26.49" lengthAdjust="spacingAndGlyphs" stroke="#111" stroke-width="0.12">KIR2DL2</text>
<text x="305.4" y="107" font-size="6.8" text-anchor="end" transform="rotate(-45 305.4 107)" textLength="26.49" lengthAdjust="spacingAndGlyphs" stroke="#111" stroke-width="0.12">KIR2DL3</text>
<rect x="313" y="92.92" width="4" height="0.68" fill="#bea6c6"/>
<rect x="317" y="92.92" width="4" height="0.68" fill="#e58d91"/>
<rect x="321" y="92.92" width="4" height="0.68" fill="#fdf180"/>
<rect x="325" y="74.62" width="4" height="18.98" fill="#f4ddbd"/>
<line x1="315" y1="92.92" x2="315" y2="92.58" stroke="#222" stroke-width="0.7"/>
<line x1="313.8" y1="92.58" x2="316.2" y2="92.58" stroke="#222" stroke-width="0.7"/>
<line x1="319" y1="92.92" x2="319" y2="92.58" stroke="#222" stroke-width="0.7"/>
<line x1="317.8" y1="92.58" x2="320.2" y2="92.58" stroke="#222" stroke-width="0.7"/>
<line x1="323" y1="92.92" x2="323" y2="92.58" stroke="#222" stroke-width="0.7"/>
<line x1="321.8" y1="92.58" x2="324.2" y2="92.58" stroke="#222" stroke-width="0.7"/>
<line x1="327" y1="74.62" x2="327" y2="70.55" stroke="#222" stroke-width="0.7"/>
<line x1="325.8" y1="70.55" x2="328.2" y2="70.55" stroke="#222" stroke-width="0.7"/>
<circle cx="315" cy="92.24" r="1.25" fill="#2d0633"/>
<circle cx="316.9" cy="92.92" r="1.25" fill="#2d0633"/>
<circle cx="319" cy="91.57" r="1.25" fill="#a3000f"/>
<circle cx="320.9" cy="92.92" r="1.25" fill="#a3000f"/>
<circle cx="323" cy="92.24" r="1.2" fill="#f4dc0a" stroke="#3a3300" stroke-width="0.5"/>
<circle cx="324.9" cy="92.92" r="1.2" fill="#f4dc0a" stroke="#3a3300" stroke-width="0.5"/>
<circle cx="327" cy="69.19" r="1.2" fill="#d8a94c" stroke="#4a3a20" stroke-width="0.5"/>
<circle cx="328.9" cy="69.87" r="1.2" fill="#d8a94c" stroke="#4a3a20" stroke-width="0.5"/>
<circle cx="327" cy="73.26" r="1.2" fill="#d8a94c" stroke="#4a3a20" stroke-width="0.5"/>
<circle cx="328.9" cy="74.62" r="1.2" fill="#d8a94c" stroke="#4a3a20" stroke-width="0.5"/>
<circle cx="327" cy="75.97" r="1.2" fill="#d8a94c" stroke="#4a3a20" stroke-width="0.5"/>
<line x1="321" y1="93.6" x2="321" y2="95.8" stroke="#000" stroke-width="0.8"/>
<text x="325.4" y="102" font-size="6.8" text-anchor="end" transform="rotate(-45 325.4 102)" textLength="26.49" lengthAdjust="spacingAndGlyphs" stroke="#111" stroke-width="0.12">KIR3DL1</text>
<rect x="338" y="92.92" width="4" height="0.68" fill="#bea6c6"/>
<rect x="342" y="92.92" width="4" height="0.68" fill="#e58d91"/>
<rect x="346" y="92.92" width="4" height="0.68" fill="#fdf180"/>
<rect x="350" y="64.45" width="4" height="29.15" fill="#f4ddbd"/>
<line x1="340" y1="92.92" x2="340" y2="92.58" stroke="#222" stroke-width="0.7"/>
<line x1="338.8" y1="92.58" x2="341.2" y2="92.58" stroke="#222" stroke-width="0.7"/>
<line x1="344" y1="92.92" x2="344" y2="92.58" stroke="#222" stroke-width="0.7"/>
<line x1="342.8" y1="92.58" x2="345.2" y2="92.58" stroke="#222" stroke-width="0.7"/>
<line x1="348" y1="92.92" x2="348" y2="92.58" stroke="#222" stroke-width="0.7"/>
<line x1="346.8" y1="92.58" x2="349.2" y2="92.58" stroke="#222" stroke-width="0.7"/>
<line x1="352" y1="64.45" x2="352" y2="54.28" stroke="#222" stroke-width="0.7"/>
<line x1="350.8" y1="54.28" x2="353.2" y2="54.28" stroke="#222" stroke-width="0.7"/>
<circle cx="340" cy="92.24" r="1.25" fill="#2d0633"/>
<circle cx="341.9" cy="92.92" r="1.25" fill="#2d0633"/>
<circle cx="344" cy="92.92" r="1.25" fill="#a3000f"/>
<circle cx="348" cy="91.57" r="1.2" fill="#f4dc0a" stroke="#3a3300" stroke-width="0.5"/>
<circle cx="349.9" cy="92.92" r="1.2" fill="#f4dc0a" stroke="#3a3300" stroke-width="0.5"/>
<circle cx="352" cy="48.85" r="1.2" fill="#d8a94c" stroke="#4a3a20" stroke-width="0.5"/>
<circle cx="352" cy="52.24" r="1.2" fill="#d8a94c" stroke="#4a3a20" stroke-width="0.5"/>
<circle cx="352" cy="56.99" r="1.2" fill="#d8a94c" stroke="#4a3a20" stroke-width="0.5"/>
<circle cx="352" cy="91.57" r="1.2" fill="#d8a94c" stroke="#4a3a20" stroke-width="0.5"/>
<line x1="346" y1="93.6" x2="346" y2="95.8" stroke="#000" stroke-width="0.8"/>
<text x="350.4" y="102" font-size="6.8" text-anchor="end" transform="rotate(-45 350.4 102)" textLength="27.21" lengthAdjust="spacingAndGlyphs" stroke="#111" stroke-width="0.12">KIR2DS4</text>
<line x1="35" y1="93.55" x2="356" y2="93.55" stroke="#000" stroke-width="1.1"/>
<circle cx="298.5" cy="18.9" r="1.6" fill="#2d0633"/>
<text x="302.6" y="20.9" font-size="5.7" textLength="11.56" lengthAdjust="spacingAndGlyphs" stroke="#111" stroke-width="0.12">ILCP</text>
<circle cx="298.5" cy="27.55" r="1.6" fill="#a3000f"/>
<text x="302.6" y="29.55" font-size="5.7" textLength="38.29" lengthAdjust="spacingAndGlyphs" stroke="#111" stroke-width="0.12">CD56+ ILC1-like</text>
<circle cx="298.5" cy="36.2" r="1.5" fill="#f4dc0a" stroke="#3a3300" stroke-width="0.5"/>
<text x="302.6" y="38.2" font-size="5.7" textLength="34.97" lengthAdjust="spacingAndGlyphs" stroke="#111" stroke-width="0.12">CD56bright NK</text>
<circle cx="298.5" cy="44.85" r="1.5" fill="#d8a94c" stroke="#4a3a20" stroke-width="0.5"/>
<text x="302.6" y="46.85" font-size="5.7" textLength="30.34" lengthAdjust="spacingAndGlyphs" stroke="#111" stroke-width="0.12">CD56dim NK</text>
<text x="6.92" y="137.35" font-size="10.9" font-weight="bold" textLength="7.88" lengthAdjust="spacingAndGlyphs" fill="#000" stroke="#000" stroke-width="0.25">B</text>
<line x1="35.5" y1="152.5" x2="35.5" y2="232" stroke="#000" stroke-width="1.1"/>
<line x1="32.7" y1="231.5" x2="35.5" y2="231.5" stroke="#000" stroke-width="0.9"/>
<text x="29.6" y="233.72" font-size="6.2" text-anchor="end" fill="#1a1a1a" stroke="#1a1a1a" stroke-width="0.12">0</text>
<line x1="32.7" y1="216.3" x2="35.5" y2="216.3" stroke="#000" stroke-width="0.9"/>
<text x="29.6" y="218.52" font-size="6.2" text-anchor="end" fill="#1a1a1a" stroke="#1a1a1a" stroke-width="0.12">20</text>
<line x1="32.7" y1="201.1" x2="35.5" y2="201.1" stroke="#000" stroke-width="0.9"/>
<text x="29.6" y="203.32" font-size="6.2" text-anchor="end" fill="#1a1a1a" stroke="#1a1a1a" stroke-width="0.12">40</text>
<line x1="32.7" y1="185.9" x2="35.5" y2="185.9" stroke="#000" stroke-width="0.9"/>
<text x="29.6" y="188.12" font-size="6.2" text-anchor="end" fill="#1a1a1a" stroke="#1a1a1a" stroke-width="0.12">60</text>
<line x1="32.7" y1="170.7" x2="35.5" y2="170.7" stroke="#000" stroke-width="0.9"/>
<text x="29.6" y="172.92" font-size="6.2" text-anchor="end" fill="#1a1a1a" stroke="#1a1a1a" stroke-width="0.12">80</text>
<line x1="32.7" y1="155.5" x2="35.5" y2="155.5" stroke="#000" stroke-width="0.9"/>
<text x="29.6" y="157.72" font-size="6.2" text-anchor="end" fill="#1a1a1a" stroke="#1a1a1a" stroke-width="0.12">100</text>
<rect x="43.1" y="219.34" width="10.2" height="12.16" fill="#bea6c6"/>
<rect x="58.5" y="185.14" width="10.2" height="46.36" fill="#e58d91"/>
<rect x="73.9" y="194.26" width="10.2" height="37.24" fill="#fdf180"/>
<rect x="89.3" y="169.94" width="10.2" height="61.56" fill="#f4ddbd"/>
<line x1="48.2" y1="219.34" x2="48.2" y2="216.3" stroke="#222" stroke-width="0.8"/>
<line x1="45.6" y1="216.3" x2="50.8" y2="216.3" stroke="#222" stroke-width="0.8"/>
<line x1="63.6" y1="185.14" x2="63.6" y2="179.82" stroke="#222" stroke-width="0.8"/>
<line x1="61" y1="179.82" x2="66.2" y2="179.82" stroke="#222" stroke-width="0.8"/>
<line x1="79" y1="194.26" x2="79" y2="188.94" stroke="#222" stroke-width="0.8"/>
<line x1="76.4" y1="188.94" x2="81.6" y2="188.94" stroke="#222" stroke-width="0.8"/>
<line x1="94.4" y1="169.94" x2="94.4" y2="166.14" stroke="#222" stroke-width="0.8"/>
<line x1="91.8" y1="166.14" x2="97" y2="166.14" stroke="#222" stroke-width="0.8"/>
<circle cx="48.2" cy="201.86" r="1.45" fill="#2d0633"/>
<circle cx="48.2" cy="207.94" r="1.45" fill="#2d0633"/>
<circle cx="52" cy="207.94" r="1.45" fill="#2d0633"/>
<circle cx="48.2" cy="210.98" r="1.45" fill="#2d0633"/>
<circle cx="48.2" cy="214.02" r="1.45" fill="#2d0633"/>
<circle cx="48.2" cy="220.1" r="1.45" fill="#2d0633"/>
<circle cx="52" cy="220.86" r="1.45" fill="#2d0633"/>
<circle cx="44.4" cy="222.38" r="1.45" fill="#2d0633"/>
<circle cx="48.2" cy="222.38" r="1.45" fill="#2d0633"/>
<circle cx="52" cy="224.66" r="1.45" fill="#2d0633"/>
<circle cx="48.2" cy="225.42" r="1.45" fill="#2d0633"/>
<circle cx="52" cy="227.7" r="1.45" fill="#2d0633"/>
<circle cx="48.2" cy="229.22" r="1.45" fill="#2d0633"/>
<circle cx="52" cy="230.74" r="1.45" fill="#2d0633"/>
<circle cx="63.6" cy="158.54" r="1.3" fill="#a3000f" stroke="#2a0000" stroke-width="0.5"/>
<circle cx="67.4" cy="158.54" r="1.3" fill="#a3000f" stroke="#2a0000" stroke-width="0.5"/>
<circle cx="63.6" cy="167.66" r="1.3" fill="#a3000f" stroke="#2a0000" stroke-width="0.5"/>
<circle cx="67.4" cy="167.66" r="1.3" fill="#a3000f" stroke="#2a0000" stroke-width="0.5"/>
<circle cx="59.8" cy="169.94" r="1.3" fill="#a3000f" stroke="#2a0000" stroke-width="0.5"/>
<circle cx="63.6" cy="172.98" r="1.3" fill="#a3000f" stroke="#2a0000" stroke-width="0.5"/>
<circle cx="63.6" cy="180.58" r="1.3" fill="#a3000f" stroke="#2a0000" stroke-width="0.5"/>
<circle cx="63.6" cy="183.62" r="1.3" fill="#a3000f" stroke="#2a0000" stroke-width="0.5"/>
<circle cx="67.4" cy="183.62" r="1.3" fill="#a3000f" stroke="#2a0000" stroke-width="0.5"/>
<circle cx="63.6" cy="191.22" r="1.3" fill="#a3000f" stroke="#2a0000" stroke-width="0.5"/>
<circle cx="63.6" cy="195.78" r="1.3" fill="#a3000f" stroke="#2a0000" stroke-width="0.5"/>
<circle cx="63.6" cy="198.82" r="1.3" fill="#a3000f" stroke="#2a0000" stroke-width="0.5"/>
<circle cx="63.6" cy="207.94" r="1.3" fill="#a3000f" stroke="#2a0000" stroke-width="0.5"/>
<circle cx="67.4" cy="207.94" r="1.3" fill="#a3000f" stroke="#2a0000" stroke-width="0.5"/>
<circle cx="63.6" cy="220.1" r="1.3" fill="#a3000f" stroke="#2a0000" stroke-width="0.5"/>
<circle cx="79" cy="158.54" r="1.25" fill="#f4dc0a" stroke="#3a3300" stroke-width="0.5"/>
<circle cx="82.8" cy="160.06" r="1.25" fill="#f4dc0a" stroke="#3a3300" stroke-width="0.5"/>
<circle cx="79" cy="168.42" r="1.25" fill="#f4dc0a" stroke="#3a3300" stroke-width="0.5"/>
<circle cx="79" cy="182.86" r="1.25" fill="#f4dc0a" stroke="#3a3300" stroke-width="0.5"/>
<circle cx="82.8" cy="183.62" r="1.25" fill="#f4dc0a" stroke="#3a3300" stroke-width="0.5"/>
<circle cx="79" cy="188.18" r="1.25" fill="#f4dc0a" stroke="#3a3300" stroke-width="0.5"/>
<circle cx="79" cy="199.58" r="1.25" fill="#f4dc0a" stroke="#3a3300" stroke-width="0.5"/>
<circle cx="82.8" cy="201.1" r="1.25" fill="#f4dc0a" stroke="#3a3300" stroke-width="0.5"/>
<circle cx="79" cy="202.62" r="1.25" fill="#f4dc0a" stroke="#3a3300" stroke-width="0.5"/>
<circle cx="79" cy="206.42" r="1.25" fill="#f4dc0a" stroke="#3a3300" stroke-width="0.5"/>
<circle cx="82.8" cy="207.18" r="1.25" fill="#f4dc0a" stroke="#3a3300" stroke-width="0.5"/>
<circle cx="79" cy="209.46" r="1.25" fill="#f4dc0a" stroke="#3a3300" stroke-width="0.5"/>
<circle cx="82.8" cy="210.98" r="1.25" fill="#f4dc0a" stroke="#3a3300" stroke-width="0.5"/>
<circle cx="79" cy="220.1" r="1.25" fill="#f4dc0a" stroke="#3a3300" stroke-width="0.5"/>
<circle cx="94.4" cy="156.26" r="1.25" fill="#d8a94c" stroke="#4a3a20" stroke-width="0.5"/>
<circle cx="98.2" cy="156.26" r="1.25" fill="#d8a94c" stroke="#4a3a20" stroke-width="0.5"/>
<circle cx="90.6" cy="157.78" r="1.25" fill="#d8a94c" stroke="#4a3a20" stroke-width="0.5"/>
<circle cx="94.4" cy="158.54" r="1.25" fill="#d8a94c" stroke="#4a3a20" stroke-width="0.5"/>
<circle cx="98.2" cy="160.82" r="1.25" fill="#d8a94c" stroke="#4a3a20" stroke-width="0.5"/>
<circle cx="94.4" cy="165.38" r="1.25" fill="#d8a94c" stroke="#4a3a20" stroke-width="0.5"/>
<circle cx="94.4" cy="174.5" r="1.25" fill="#d8a94c" stroke="#4a3a20" stroke-width="0.5"/>
<circle cx="98.2" cy="175.26" r="1.25" fill="#d8a94c" stroke="#4a3a20" stroke-width="0.5"/>
<circle cx="90.6" cy="176.78" r="1.25" fill="#d8a94c" stroke="#4a3a20" stroke-width="0.5"/>
<circle cx="94.4" cy="177.54" r="1.25" fill="#d8a94c" stroke="#4a3a20" stroke-width="0.5"/>
<circle cx="98.2" cy="178.3" r="1.25" fill="#d8a94c" stroke="#4a3a20" stroke-width="0.5"/>
<circle cx="90.6" cy="179.06" r="1.25" fill="#d8a94c" stroke="#4a3a20" stroke-width="0.5"/>
<circle cx="94.4" cy="180.58" r="1.25" fill="#d8a94c" stroke="#4a3a20" stroke-width="0.5"/>
<circle cx="94.4" cy="203.38" r="1.25" fill="#d8a94c" stroke="#4a3a20" stroke-width="0.5"/>
<line x1="35" y1="231.5" x2="106.4" y2="231.5" stroke="#000" stroke-width="1.1"/>
<line x1="48.2" y1="231.5" x2="48.2" y2="233.7" stroke="#000" stroke-width="0.8"/>
<line x1="63.6" y1="231.5" x2="63.6" y2="233.7" stroke="#000" stroke-width="0.8"/>
<line x1="79" y1="231.5" x2="79" y2="233.7" stroke="#000" stroke-width="0.8"/>
<line x1="94.4" y1="231.5" x2="94.4" y2="233.7" stroke="#000" stroke-width="0.8"/>
<text x="71.3" y="143.2" font-size="8.3" text-anchor="middle" textLength="41" lengthAdjust="spacingAndGlyphs" stroke="#111" stroke-width="0.12">granzyme A</text>
<line x1="47.4" y1="154" x2="63.6" y2="154" stroke="#1a1a1a" stroke-width="1.3"/>
<circle cx="51.67" cy="150.4" r="0.82" fill="#111"/>
<circle cx="54.22" cy="150.4" r="0.82" fill="#111"/>
<circle cx="56.77" cy="150.4" r="0.82" fill="#111"/>
<circle cx="59.32" cy="150.4" r="0.82" fill="#111"/>
<line x1="63.6" y1="151.9" x2="94.9" y2="151.9" stroke="#1a1a1a" stroke-width="0.9"/>
<circle cx="79.25" cy="148.3" r="0.82" fill="#111"/>
<text x="50.4" y="237.3" font-size="6.3" text-anchor="end" transform="rotate(-90 50.4 237.3)" textLength="13.2" lengthAdjust="spacingAndGlyphs" fill="#222" stroke="#222" stroke-width="0.12">ILCP</text>
<text x="65.8" y="237.3" font-size="6.3" text-anchor="end" transform="rotate(-90 65.8 237.3)" textLength="45.5" lengthAdjust="spacingAndGlyphs" fill="#222" stroke="#222" stroke-width="0.12">CD56+ ILC1-like</text>
<text x="81.2" y="237.3" font-size="6.3" text-anchor="end" transform="rotate(-90 81.2 237.3)" textLength="42" lengthAdjust="spacingAndGlyphs" fill="#222" stroke="#222" stroke-width="0.12">CD56bright NK</text>
<text x="96.6" y="237.3" font-size="6.3" text-anchor="end" transform="rotate(-90 96.6 237.3)" textLength="36" lengthAdjust="spacingAndGlyphs" fill="#222" stroke="#222" stroke-width="0.12">CD56dim NK</text>
<line x1="138.5" y1="153" x2="138.5" y2="232.4" stroke="#000" stroke-width="1.1"/>
<line x1="135.7" y1="231.9" x2="138.5" y2="231.9" stroke="#000" stroke-width="0.9"/>
<text x="132.6" y="234.12" font-size="6.2" text-anchor="end" fill="#1a1a1a" stroke="#1a1a1a" stroke-width="0.12">0</text>
<line x1="135.7" y1="216.72" x2="138.5" y2="216.72" stroke="#000" stroke-width="0.9"/>
<text x="132.6" y="218.94" font-size="6.2" text-anchor="end" fill="#1a1a1a" stroke="#1a1a1a" stroke-width="0.12">20</text>
<line x1="135.7" y1="201.54" x2="138.5" y2="201.54" stroke="#000" stroke-width="0.9"/>
<text x="132.6" y="203.76" font-size="6.2" text-anchor="end" fill="#1a1a1a" stroke="#1a1a1a" stroke-width="0.12">40</text>
<line x1="135.7" y1="186.36" x2="138.5" y2="186.36" stroke="#000" stroke-width="0.9"/>
<text x="132.6" y="188.58" font-size="6.2" text-anchor="end" fill="#1a1a1a" stroke="#1a1a1a" stroke-width="0.12">60</text>
<line x1="135.7" y1="171.18" x2="138.5" y2="171.18" stroke="#000" stroke-width="0.9"/>
<text x="132.6" y="173.4" font-size="6.2" text-anchor="end" fill="#1a1a1a" stroke="#1a1a1a" stroke-width="0.12">80</text>
<line x1="135.7" y1="156" x2="138.5" y2="156" stroke="#000" stroke-width="0.9"/>
<text x="132.6" y="158.22" font-size="6.2" text-anchor="end" fill="#1a1a1a" stroke="#1a1a1a" stroke-width="0.12">100</text>
<rect x="146.1" y="228.11" width="10.2" height="3.79" fill="#bea6c6"/>
<rect x="161.5" y="220.52" width="10.2" height="11.38" fill="#e58d91"/>
<rect x="176.9" y="219" width="10.2" height="12.9" fill="#fdf180"/>
<rect x="192.3" y="197.75" width="10.2" height="34.16" fill="#f4ddbd"/>
<line x1="151.2" y1="228.11" x2="151.2" y2="223.55" stroke="#222" stroke-width="0.8"/>
<line x1="148.6" y1="223.55" x2="153.8" y2="223.55" stroke="#222" stroke-width="0.8"/>
<line x1="166.6" y1="220.52" x2="166.6" y2="217.48" stroke="#222" stroke-width="0.8"/>
<line x1="164" y1="217.48" x2="169.2" y2="217.48" stroke="#222" stroke-width="0.8"/>
<line x1="182" y1="219" x2="182" y2="214.44" stroke="#222" stroke-width="0.8"/>
<line x1="179.4" y1="214.44" x2="184.6" y2="214.44" stroke="#222" stroke-width="0.8"/>
<line x1="197.4" y1="197.75" x2="197.4" y2="193.95" stroke="#222" stroke-width="0.8"/>
<line x1="194.8" y1="193.95" x2="200" y2="193.95" stroke="#222" stroke-width="0.8"/>
<circle cx="151.2" cy="201.54" r="1.45" fill="#2d0633"/>
<circle cx="151.2" cy="222.03" r="1.45" fill="#2d0633"/>
<circle cx="155" cy="224.31" r="1.45" fill="#2d0633"/>
<circle cx="151.2" cy="225.83" r="1.45" fill="#2d0633"/>
<circle cx="155" cy="227.35" r="1.45" fill="#2d0633"/>
<circle cx="147.4" cy="228.11" r="1.45" fill="#2d0633"/>
<circle cx="151.2" cy="228.86" r="1.45" fill="#2d0633"/>
<circle cx="155" cy="229.62" r="1.45" fill="#2d0633"/>
<circle cx="147.4" cy="230.38" r="1.45" fill="#2d0633"/>
<circle cx="151.2" cy="231.14" r="1.45" fill="#2d0633"/>
<circle cx="155" cy="231.52" r="1.45" fill="#2d0633"/>
<circle cx="166.6" cy="195.47" r="1.3" fill="#a3000f" stroke="#2a0000" stroke-width="0.5"/>
<circle cx="166.6" cy="207.61" r="1.3" fill="#a3000f" stroke="#2a0000" stroke-width="0.5"/>
<circle cx="170.4" cy="208.37" r="1.3" fill="#a3000f" stroke="#2a0000" stroke-width="0.5"/>
<circle cx="166.6" cy="212.93" r="1.3" fill="#a3000f" stroke="#2a0000" stroke-width="0.5"/>
<circle cx="166.6" cy="219" r="1.3" fill="#a3000f" stroke="#2a0000" stroke-width="0.5"/>
<circle cx="170.4" cy="221.27" r="1.3" fill="#a3000f" stroke="#2a0000" stroke-width="0.5"/>
<circle cx="166.6" cy="222.79" r="1.3" fill="#a3000f" stroke="#2a0000" stroke-width="0.5"/>
<circle cx="170.4" cy="224.31" r="1.3" fill="#a3000f" stroke="#2a0000" stroke-width="0.5"/>
<circle cx="166.6" cy="225.83" r="1.3" fill="#a3000f" stroke="#2a0000" stroke-width="0.5"/>
<circle cx="170.4" cy="227.35" r="1.3" fill="#a3000f" stroke="#2a0000" stroke-width="0.5"/>
<circle cx="166.6" cy="228.86" r="1.3" fill="#a3000f" stroke="#2a0000" stroke-width="0.5"/>
<circle cx="170.4" cy="230.38" r="1.3" fill="#a3000f" stroke="#2a0000" stroke-width="0.5"/>
<circle cx="166.6" cy="231.52" r="1.3" fill="#a3000f" stroke="#2a0000" stroke-width="0.5"/>
<circle cx="182" cy="184.84" r="1.25" fill="#f4dc0a" stroke="#3a3300" stroke-width="0.5"/>
<circle cx="182" cy="187.88" r="1.25" fill="#f4dc0a" stroke="#3a3300" stroke-width="0.5"/>
<circle cx="182" cy="210.65" r="1.25" fill="#f4dc0a" stroke="#3a3300" stroke-width="0.5"/>
<circle cx="182" cy="214.44" r="1.25" fill="#f4dc0a" stroke="#3a3300" stroke-width="0.5"/>
<circle cx="185.8" cy="215.2" r="1.25" fill="#f4dc0a" stroke="#3a3300" stroke-width="0.5"/>
<circle cx="182" cy="222.79" r="1.25" fill="#f4dc0a" stroke="#3a3300" stroke-width="0.5"/>
<circle cx="185.8" cy="224.31" r="1.25" fill="#f4dc0a" stroke="#3a3300" stroke-width="0.5"/>
<circle cx="182" cy="225.83" r="1.25" fill="#f4dc0a" stroke="#3a3300" stroke-width="0.5"/>
<circle cx="185.8" cy="228.11" r="1.25" fill="#f4dc0a" stroke="#3a3300" stroke-width="0.5"/>
<circle cx="182" cy="229.62" r="1.25" fill="#f4dc0a" stroke="#3a3300" stroke-width="0.5"/>
<circle cx="178.2" cy="230.38" r="1.25" fill="#f4dc0a" stroke="#3a3300" stroke-width="0.5"/>
<circle cx="197.4" cy="168.14" r="1.25" fill="#d8a94c" stroke="#4a3a20" stroke-width="0.5"/>
<circle cx="201.2" cy="168.14" r="1.25" fill="#d8a94c" stroke="#4a3a20" stroke-width="0.5"/>
<circle cx="197.4" cy="178.77" r="1.25" fill="#d8a94c" stroke="#4a3a20" stroke-width="0.5"/>
<circle cx="197.4" cy="187.12" r="1.25" fill="#d8a94c" stroke="#4a3a20" stroke-width="0.5"/>
<circle cx="197.4" cy="194.71" r="1.25" fill="#d8a94c" stroke="#4a3a20" stroke-width="0.5"/>
<circle cx="201.2" cy="196.23" r="1.25" fill="#d8a94c" stroke="#4a3a20" stroke-width="0.5"/>
<circle cx="197.4" cy="199.26" r="1.25" fill="#d8a94c" stroke="#4a3a20" stroke-width="0.5"/>
<circle cx="201.2" cy="200.02" r="1.25" fill="#d8a94c" stroke="#4a3a20" stroke-width="0.5"/>
<circle cx="197.4" cy="206.09" r="1.25" fill="#d8a94c" stroke="#4a3a20" stroke-width="0.5"/>
<circle cx="197.4" cy="211.41" r="1.25" fill="#d8a94c" stroke="#4a3a20" stroke-width="0.5"/>
<circle cx="197.4" cy="217.48" r="1.25" fill="#d8a94c" stroke="#4a3a20" stroke-width="0.5"/>
<circle cx="201.2" cy="218.24" r="1.25" fill="#d8a94c" stroke="#4a3a20" stroke-width="0.5"/>
<circle cx="197.4" cy="222.79" r="1.25" fill="#d8a94c" stroke="#4a3a20" stroke-width="0.5"/>
<circle cx="197.4" cy="225.83" r="1.25" fill="#d8a94c" stroke="#4a3a20" stroke-width="0.5"/>
<line x1="138" y1="231.9" x2="209.4" y2="231.9" stroke="#000" stroke-width="1.1"/>
<line x1="151.2" y1="231.9" x2="151.2" y2="234.1" stroke="#000" stroke-width="0.8"/>
<line x1="166.6" y1="231.9" x2="166.6" y2="234.1" stroke="#000" stroke-width="0.8"/>
<line x1="182" y1="231.9" x2="182" y2="234.1" stroke="#000" stroke-width="0.8"/>
<line x1="197.4" y1="231.9" x2="197.4" y2="234.1" stroke="#000" stroke-width="0.8"/>
<text x="174.5" y="143.2" font-size="8.3" text-anchor="middle" textLength="41.5" lengthAdjust="spacingAndGlyphs" stroke="#111" stroke-width="0.12">granzyme B</text>
<line x1="148.8" y1="180.2" x2="167.5" y2="180.2" stroke="#1a1a1a" stroke-width="0.9"/>
<circle cx="158.15" cy="176.6" r="0.82" fill="#111"/>
<line x1="165.6" y1="160" x2="197.5" y2="160" stroke="#1a1a1a" stroke-width="0.9"/>
<circle cx="179" cy="156.4" r="0.82" fill="#111"/>
<circle cx="181.55" cy="156.4" r="0.82" fill="#111"/>
<circle cx="184.1" cy="156.4" r="0.82" fill="#111"/>
<text x="153.4" y="237.7" font-size="6.3" text-anchor="end" transform="rotate(-90 153.4 237.7)" textLength="13.2" lengthAdjust="spacingAndGlyphs" fill="#222" stroke="#222" stroke-width="0.12">ILCP</text>
<text x="168.8" y="237.7" font-size="6.3" text-anchor="end" transform="rotate(-90 168.8 237.7)" textLength="45.5" lengthAdjust="spacingAndGlyphs" fill="#222" stroke="#222" stroke-width="0.12">CD56+ ILC1-like</text>
<text x="184.2" y="237.7" font-size="6.3" text-anchor="end" transform="rotate(-90 184.2 237.7)" textLength="42" lengthAdjust="spacingAndGlyphs" fill="#222" stroke="#222" stroke-width="0.12">CD56bright NK</text>
<text x="199.6" y="237.7" font-size="6.3" text-anchor="end" transform="rotate(-90 199.6 237.7)" textLength="36" lengthAdjust="spacingAndGlyphs" fill="#222" stroke="#222" stroke-width="0.12">CD56dim NK</text>
<line x1="242.4" y1="152.4" x2="242.4" y2="232.4" stroke="#000" stroke-width="1.1"/>
<line x1="239.6" y1="231.9" x2="242.4" y2="231.9" stroke="#000" stroke-width="0.9"/>
<text x="236.5" y="234.12" font-size="6.2" text-anchor="end" fill="#1a1a1a" stroke="#1a1a1a" stroke-width="0.12">0</text>
<line x1="239.6" y1="216.6" x2="242.4" y2="216.6" stroke="#000" stroke-width="0.9"/>
<text x="236.5" y="218.82" font-size="6.2" text-anchor="end" fill="#1a1a1a" stroke="#1a1a1a" stroke-width="0.12">20</text>
<line x1="239.6" y1="201.3" x2="242.4" y2="201.3" stroke="#000" stroke-width="0.9"/>
<text x="236.5" y="203.52" font-size="6.2" text-anchor="end" fill="#1a1a1a" stroke="#1a1a1a" stroke-width="0.12">40</text>
<line x1="239.6" y1="186" x2="242.4" y2="186" stroke="#000" stroke-width="0.9"/>
<text x="236.5" y="188.22" font-size="6.2" text-anchor="end" fill="#1a1a1a" stroke="#1a1a1a" stroke-width="0.12">60</text>
<line x1="239.6" y1="170.7" x2="242.4" y2="170.7" stroke="#000" stroke-width="0.9"/>
<text x="236.5" y="172.92" font-size="6.2" text-anchor="end" fill="#1a1a1a" stroke="#1a1a1a" stroke-width="0.12">80</text>
<line x1="239.6" y1="155.4" x2="242.4" y2="155.4" stroke="#000" stroke-width="0.9"/>
<text x="236.5" y="157.62" font-size="6.2" text-anchor="end" fill="#1a1a1a" stroke="#1a1a1a" stroke-width="0.12">100</text>
<rect x="249.7" y="230.37" width="10.2" height="1.53" fill="#bea6c6"/>
<rect x="265.15" y="222.72" width="10.2" height="9.18" fill="#e58d91"/>
<rect x="280.6" y="222.72" width="10.2" height="9.18" fill="#fdf180"/>
<rect x="296.05" y="230.37" width="10.2" height="1.53" fill="#f4ddbd"/>
<line x1="254.8" y1="230.37" x2="254.8" y2="229.99" stroke="#222" stroke-width="0.8"/>
<line x1="252.2" y1="229.99" x2="257.4" y2="229.99" stroke="#222" stroke-width="0.8"/>
<line x1="270.25" y1="222.72" x2="270.25" y2="220.43" stroke="#222" stroke-width="0.8"/>
<line x1="267.65" y1="220.43" x2="272.85" y2="220.43" stroke="#222" stroke-width="0.8"/>
<line x1="285.7" y1="222.72" x2="285.7" y2="219.66" stroke="#222" stroke-width="0.8"/>
<line x1="283.1" y1="219.66" x2="288.3" y2="219.66" stroke="#222" stroke-width="0.8"/>
<line x1="301.15" y1="230.37" x2="301.15" y2="229.61" stroke="#222" stroke-width="0.8"/>
<line x1="298.55" y1="229.61" x2="303.75" y2="229.61" stroke="#222" stroke-width="0.8"/>
<circle cx="254.8" cy="228.84" r="1.45" fill="#2d0633"/>
<circle cx="258.6" cy="229.61" r="1.45" fill="#2d0633"/>
<circle cx="251" cy="229.61" r="1.45" fill="#2d0633"/>
<circle cx="254.8" cy="230.37" r="1.45" fill="#2d0633"/>
<circle cx="258.6" cy="230.37" r="1.45" fill="#2d0633"/>
<circle cx="251" cy="231.14" r="1.45" fill="#2d0633"/>
<circle cx="254.8" cy="231.14" r="1.45" fill="#2d0633"/>
<circle cx="258.6" cy="231.14" r="1.45" fill="#2d0633"/>
<circle cx="254.8" cy="231.52" r="1.45" fill="#2d0633"/>
<circle cx="258.6" cy="231.52" r="1.45" fill="#2d0633"/>
<circle cx="270.25" cy="213.54" r="1.3" fill="#a3000f" stroke="#2a0000" stroke-width="0.5"/>
<circle cx="274.05" cy="214.31" r="1.3" fill="#a3000f" stroke="#2a0000" stroke-width="0.5"/>
<circle cx="270.25" cy="216.6" r="1.3" fill="#a3000f" stroke="#2a0000" stroke-width="0.5"/>
<circle cx="270.25" cy="219.66" r="1.3" fill="#a3000f" stroke="#2a0000" stroke-width="0.5"/>
<circle cx="274.05" cy="221.19" r="1.3" fill="#a3000f" stroke="#2a0000" stroke-width="0.5"/>
<circle cx="266.45" cy="221.96" r="1.3" fill="#a3000f" stroke="#2a0000" stroke-width="0.5"/>
<circle cx="270.25" cy="222.72" r="1.3" fill="#a3000f" stroke="#2a0000" stroke-width="0.5"/>
<circle cx="274.05" cy="224.25" r="1.3" fill="#a3000f" stroke="#2a0000" stroke-width="0.5"/>
<circle cx="266.45" cy="225.02" r="1.3" fill="#a3000f" stroke="#2a0000" stroke-width="0.5"/>
<circle cx="270.25" cy="225.78" r="1.3" fill="#a3000f" stroke="#2a0000" stroke-width="0.5"/>
<circle cx="274.05" cy="227.31" r="1.3" fill="#a3000f" stroke="#2a0000" stroke-width="0.5"/>
<circle cx="266.45" cy="228.08" r="1.3" fill="#a3000f" stroke="#2a0000" stroke-width="0.5"/>
<circle cx="270.25" cy="229.61" r="1.3" fill="#a3000f" stroke="#2a0000" stroke-width="0.5"/>
<circle cx="274.05" cy="230.37" r="1.3" fill="#a3000f" stroke="#2a0000" stroke-width="0.5"/>
<circle cx="285.7" cy="202.83" r="1.25" fill="#f4dc0a" stroke="#3a3300" stroke-width="0.5"/>
<circle cx="285.7" cy="209.72" r="1.25" fill="#f4dc0a" stroke="#3a3300" stroke-width="0.5"/>
<circle cx="285.7" cy="216.6" r="1.25" fill="#f4dc0a" stroke="#3a3300" stroke-width="0.5"/>
<circle cx="285.7" cy="219.66" r="1.25" fill="#f4dc0a" stroke="#3a3300" stroke-width="0.5"/>
<circle cx="289.5" cy="221.19" r="1.25" fill="#f4dc0a" stroke="#3a3300" stroke-width="0.5"/>
<circle cx="285.7" cy="222.72" r="1.25" fill="#f4dc0a" stroke="#3a3300" stroke-width="0.5"/>
<circle cx="289.5" cy="224.25" r="1.25" fill="#f4dc0a" stroke="#3a3300" stroke-width="0.5"/>
<circle cx="281.9" cy="225.02" r="1.25" fill="#f4dc0a" stroke="#3a3300" stroke-width="0.5"/>
<circle cx="285.7" cy="225.78" r="1.25" fill="#f4dc0a" stroke="#3a3300" stroke-width="0.5"/>
<circle cx="289.5" cy="227.31" r="1.25" fill="#f4dc0a" stroke="#3a3300" stroke-width="0.5"/>
<circle cx="281.9" cy="228.08" r="1.25" fill="#f4dc0a" stroke="#3a3300" stroke-width="0.5"/>
<circle cx="285.7" cy="229.61" r="1.25" fill="#f4dc0a" stroke="#3a3300" stroke-width="0.5"/>
<circle cx="289.5" cy="230.37" r="1.25" fill="#f4dc0a" stroke="#3a3300" stroke-width="0.5"/>
<circle cx="301.15" cy="227.31" r="1.25" fill="#d8a94c" stroke="#4a3a20" stroke-width="0.5"/>
<circle cx="304.95" cy="228.08" r="1.25" fill="#d8a94c" stroke="#4a3a20" stroke-width="0.5"/>
<circle cx="297.35" cy="229.61" r="1.25" fill="#d8a94c" stroke="#4a3a20" stroke-width="0.5"/>
<circle cx="301.15" cy="230.37" r="1.25" fill="#d8a94c" stroke="#4a3a20" stroke-width="0.5"/>
<circle cx="304.95" cy="231.14" r="1.25" fill="#d8a94c" stroke="#4a3a20" stroke-width="0.5"/>
<circle cx="297.35" cy="231.14" r="1.25" fill="#d8a94c" stroke="#4a3a20" stroke-width="0.5"/>
<circle cx="301.15" cy="231.52" r="1.25" fill="#d8a94c" stroke="#4a3a20" stroke-width="0.5"/>
<circle cx="304.95" cy="231.52" r="1.25" fill="#d8a94c" stroke="#4a3a20" stroke-width="0.5"/>
<line x1="241.9" y1="231.9" x2="313.15" y2="231.9" stroke="#000" stroke-width="1.1"/>
<line x1="254.8" y1="231.9" x2="254.8" y2="234.1" stroke="#000" stroke-width="0.8"/>
<line x1="270.25" y1="231.9" x2="270.25" y2="234.1" stroke="#000" stroke-width="0.8"/>
<line x1="285.7" y1="231.9" x2="285.7" y2="234.1" stroke="#000" stroke-width="0.8"/>
<line x1="301.15" y1="231.9" x2="301.15" y2="234.1" stroke="#000" stroke-width="0.8"/>
<text x="278" y="143.2" font-size="8.3" text-anchor="middle" textLength="41" lengthAdjust="spacingAndGlyphs" stroke="#111" stroke-width="0.12">granzyme K</text>
<line x1="251.7" y1="189.1" x2="271.3" y2="189.1" stroke="#1a1a1a" stroke-width="0.9"/>
<circle cx="257.68" cy="185.5" r="0.82" fill="#111"/>
<circle cx="260.23" cy="185.5" r="0.82" fill="#111"/>
<circle cx="262.78" cy="185.5" r="0.82" fill="#111"/>
<circle cx="265.32" cy="185.5" r="0.82" fill="#111"/>
<line x1="271.9" y1="180.5" x2="302.2" y2="180.5" stroke="#1a1a1a" stroke-width="0.9"/>
<circle cx="283.22" cy="176.9" r="0.82" fill="#111"/>
<circle cx="285.77" cy="176.9" r="0.82" fill="#111"/>
<circle cx="288.32" cy="176.9" r="0.82" fill="#111"/>
<circle cx="290.87" cy="176.9" r="0.82" fill="#111"/>
<text x="257" y="237.7" font-size="6.3" text-anchor="end" transform="rotate(-90 257 237.7)" textLength="13.2" lengthAdjust="spacingAndGlyphs" fill="#222" stroke="#222" stroke-width="0.12">ILCP</text>
<text x="272.45" y="237.7" font-size="6.3" text-anchor="end" transform="rotate(-90 272.45 237.7)" textLength="45.5" lengthAdjust="spacingAndGlyphs" fill="#222" stroke="#222" stroke-width="0.12">CD56+ ILC1-like</text>
<text x="287.9" y="237.7" font-size="6.3" text-anchor="end" transform="rotate(-90 287.9 237.7)" textLength="42" lengthAdjust="spacingAndGlyphs" fill="#222" stroke="#222" stroke-width="0.12">CD56bright NK</text>
<text x="303.35" y="237.7" font-size="6.3" text-anchor="end" transform="rotate(-90 303.35 237.7)" textLength="36" lengthAdjust="spacingAndGlyphs" fill="#222" stroke="#222" stroke-width="0.12">CD56dim NK</text>
<line x1="35.5" y1="314.7" x2="35.5" y2="394.6" stroke="#000" stroke-width="1.1"/>
<line x1="32.7" y1="394.1" x2="35.5" y2="394.1" stroke="#000" stroke-width="0.9"/>
<text x="29.6" y="396.32" font-size="6.2" text-anchor="end" fill="#1a1a1a" stroke="#1a1a1a" stroke-width="0.12">0</text>
<line x1="32.7" y1="378.82" x2="35.5" y2="378.82" stroke="#000" stroke-width="0.9"/>
<text x="29.6" y="381.04" font-size="6.2" text-anchor="end" fill="#1a1a1a" stroke="#1a1a1a" stroke-width="0.12">20</text>
<line x1="32.7" y1="363.54" x2="35.5" y2="363.54" stroke="#000" stroke-width="0.9"/>
<text x="29.6" y="365.76" font-size="6.2" text-anchor="end" fill="#1a1a1a" stroke="#1a1a1a" stroke-width="0.12">40</text>
<line x1="32.7" y1="348.26" x2="35.5" y2="348.26" stroke="#000" stroke-width="0.9"/>
<text x="29.6" y="350.48" font-size="6.2" text-anchor="end" fill="#1a1a1a" stroke="#1a1a1a" stroke-width="0.12">60</text>
<line x1="32.7" y1="332.98" x2="35.5" y2="332.98" stroke="#000" stroke-width="0.9"/>
<text x="29.6" y="335.2" font-size="6.2" text-anchor="end" fill="#1a1a1a" stroke="#1a1a1a" stroke-width="0.12">80</text>
<line x1="32.7" y1="317.7" x2="35.5" y2="317.7" stroke="#000" stroke-width="0.9"/>
<text x="29.6" y="319.92" font-size="6.2" text-anchor="end" fill="#1a1a1a" stroke="#1a1a1a" stroke-width="0.12">100</text>
<rect x="43.4" y="371.18" width="10.2" height="22.92" fill="#bea6c6"/>
<rect x="59.4" y="357.43" width="10.2" height="36.67" fill="#e58d91"/>
<rect x="75.4" y="354.37" width="10.2" height="39.73" fill="#fdf180"/>
<rect x="91.4" y="326.87" width="10.2" height="67.23" fill="#f4ddbd"/>
<line x1="48.5" y1="371.18" x2="48.5" y2="366.6" stroke="#222" stroke-width="0.8"/>
<line x1="45.9" y1="366.6" x2="51.1" y2="366.6" stroke="#222" stroke-width="0.8"/>
<line x1="64.5" y1="357.43" x2="64.5" y2="349.79" stroke="#222" stroke-width="0.8"/>
<line x1="61.9" y1="349.79" x2="67.1" y2="349.79" stroke="#222" stroke-width="0.8"/>
<line x1="80.5" y1="354.37" x2="80.5" y2="346.73" stroke="#222" stroke-width="0.8"/>
<line x1="77.9" y1="346.73" x2="83.1" y2="346.73" stroke="#222" stroke-width="0.8"/>
<line x1="96.5" y1="326.87" x2="96.5" y2="326.1" stroke="#222" stroke-width="0.8"/>
<line x1="93.9" y1="326.1" x2="99.1" y2="326.1" stroke="#222" stroke-width="0.8"/>
<circle cx="48.5" cy="334.51" r="1.45" fill="#2d0633"/>
<circle cx="48.5" cy="346.73" r="1.45" fill="#2d0633"/>
<circle cx="48.5" cy="353.61" r="1.45" fill="#2d0633"/>
<circle cx="48.5" cy="363.54" r="1.45" fill="#2d0633"/>
<circle cx="52.3" cy="363.54" r="1.45" fill="#2d0633"/>
<circle cx="44.7" cy="365.07" r="1.45" fill="#2d0633"/>
<circle cx="48.5" cy="369.65" r="1.45" fill="#2d0633"/>
<circle cx="48.5" cy="378.06" r="1.45" fill="#2d0633"/>
<circle cx="48.5" cy="384.17" r="1.45" fill="#2d0633"/>
<circle cx="48.5" cy="388.75" r="1.45" fill="#2d0633"/>
<circle cx="48.5" cy="392.57" r="1.45" fill="#2d0633"/>
<circle cx="52.3" cy="393.72" r="1.45" fill="#2d0633"/>
<circle cx="64.5" cy="317.7" r="1.3" fill="#a3000f" stroke="#2a0000" stroke-width="0.5"/>
<circle cx="68.3" cy="319.99" r="1.3" fill="#a3000f" stroke="#2a0000" stroke-width="0.5"/>
<circle cx="64.5" cy="332.98" r="1.3" fill="#a3000f" stroke="#2a0000" stroke-width="0.5"/>
<circle cx="68.3" cy="335.27" r="1.3" fill="#a3000f" stroke="#2a0000" stroke-width="0.5"/>
<circle cx="64.5" cy="348.26" r="1.3" fill="#a3000f" stroke="#2a0000" stroke-width="0.5"/>
<circle cx="64.5" cy="365.07" r="1.3" fill="#a3000f" stroke="#2a0000" stroke-width="0.5"/>
<circle cx="64.5" cy="368.12" r="1.3" fill="#a3000f" stroke="#2a0000" stroke-width="0.5"/>
<circle cx="64.5" cy="376.53" r="1.3" fill="#a3000f" stroke="#2a0000" stroke-width="0.5"/>
<circle cx="68.3" cy="377.29" r="1.3" fill="#a3000f" stroke="#2a0000" stroke-width="0.5"/>
<circle cx="64.5" cy="384.17" r="1.3" fill="#a3000f" stroke="#2a0000" stroke-width="0.5"/>
<circle cx="64.5" cy="393.72" r="1.3" fill="#a3000f" stroke="#2a0000" stroke-width="0.5"/>
<circle cx="80.5" cy="318.46" r="1.25" fill="#f4dc0a" stroke="#3a3300" stroke-width="0.5"/>
<circle cx="80.5" cy="332.22" r="1.25" fill="#f4dc0a" stroke="#3a3300" stroke-width="0.5"/>
<circle cx="80.5" cy="335.27" r="1.25" fill="#f4dc0a" stroke="#3a3300" stroke-width="0.5"/>
<circle cx="84.3" cy="337.56" r="1.25" fill="#f4dc0a" stroke="#3a3300" stroke-width="0.5"/>
<circle cx="80.5" cy="340.62" r="1.25" fill="#f4dc0a" stroke="#3a3300" stroke-width="0.5"/>
<circle cx="80.5" cy="343.68" r="1.25" fill="#f4dc0a" stroke="#3a3300" stroke-width="0.5"/>
<circle cx="84.3" cy="345.97" r="1.25" fill="#f4dc0a" stroke="#3a3300" stroke-width="0.5"/>
<circle cx="80.5" cy="348.26" r="1.25" fill="#f4dc0a" stroke="#3a3300" stroke-width="0.5"/>
<circle cx="80.5" cy="369.65" r="1.25" fill="#f4dc0a" stroke="#3a3300" stroke-width="0.5"/>
<circle cx="80.5" cy="374.24" r="1.25" fill="#f4dc0a" stroke="#3a3300" stroke-width="0.5"/>
<circle cx="84.3" cy="376.53" r="1.25" fill="#f4dc0a" stroke="#3a3300" stroke-width="0.5"/>
<circle cx="80.5" cy="384.17" r="1.25" fill="#f4dc0a" stroke="#3a3300" stroke-width="0.5"/>
<circle cx="80.5" cy="392.57" r="1.25" fill="#f4dc0a" stroke="#3a3300" stroke-width="0.5"/>
<circle cx="96.5" cy="318.46" r="1.25" fill="#d8a94c" stroke="#4a3a20" stroke-width="0.5"/>
<circle cx="100.3" cy="319.23" r="1.25" fill="#d8a94c" stroke="#4a3a20" stroke-width="0.5"/>
<circle cx="92.7" cy="319.23" r="1.25" fill="#d8a94c" stroke="#4a3a20" stroke-width="0.5"/>
<circle cx="96.5" cy="319.99" r="1.25" fill="#d8a94c" stroke="#4a3a20" stroke-width="0.5"/>
<circle cx="100.3" cy="320.76" r="1.25" fill="#d8a94c" stroke="#4a3a20" stroke-width="0.5"/>
<circle cx="92.7" cy="321.52" r="1.25" fill="#d8a94c" stroke="#4a3a20" stroke-width="0.5"/>
<circle cx="96.5" cy="321.52" r="1.25" fill="#d8a94c" stroke="#4a3a20" stroke-width="0.5"/>
<circle cx="100.3" cy="322.28" r="1.25" fill="#d8a94c" stroke="#4a3a20" stroke-width="0.5"/>
<circle cx="96.5" cy="323.05" r="1.25" fill="#d8a94c" stroke="#4a3a20" stroke-width="0.5"/>
<circle cx="92.7" cy="323.81" r="1.25" fill="#d8a94c" stroke="#4a3a20" stroke-width="0.5"/>
<circle cx="96.5" cy="393.34" r="1.25" fill="#d8a94c" stroke="#4a3a20" stroke-width="0.5"/>
<line x1="35" y1="394.1" x2="108.5" y2="394.1" stroke="#000" stroke-width="1.1"/>
<line x1="48.5" y1="394.1" x2="48.5" y2="396.3" stroke="#000" stroke-width="0.8"/>
<line x1="64.5" y1="394.1" x2="64.5" y2="396.3" stroke="#000" stroke-width="0.8"/>
<line x1="80.5" y1="394.1" x2="80.5" y2="396.3" stroke="#000" stroke-width="0.8"/>
<line x1="96.5" y1="394.1" x2="96.5" y2="396.3" stroke="#000" stroke-width="0.8"/>
<text x="72" y="302.8" font-size="8.3" text-anchor="middle" textLength="42.4" lengthAdjust="spacingAndGlyphs" stroke="#111" stroke-width="0.12">granzyme M</text>
<line x1="62" y1="312" x2="95.8" y2="312" stroke="#1a1a1a" stroke-width="0.9"/>
<circle cx="77.62" cy="308.4" r="0.82" fill="#111"/>
<circle cx="80.17" cy="308.4" r="0.82" fill="#111"/>
<text x="50.7" y="399.9" font-size="6.3" text-anchor="end" transform="rotate(-90 50.7 399.9)" textLength="13.2" lengthAdjust="spacingAndGlyphs" fill="#222" stroke="#222" stroke-width="0.12">ILCP</text>
<text x="66.7" y="399.9" font-size="6.3" text-anchor="end" transform="rotate(-90 66.7 399.9)" textLength="45.5" lengthAdjust="spacingAndGlyphs" fill="#222" stroke="#222" stroke-width="0.12">CD56+ ILC1-like</text>
<text x="82.7" y="399.9" font-size="6.3" text-anchor="end" transform="rotate(-90 82.7 399.9)" textLength="42" lengthAdjust="spacingAndGlyphs" fill="#222" stroke="#222" stroke-width="0.12">CD56bright NK</text>
<text x="98.7" y="399.9" font-size="6.3" text-anchor="end" transform="rotate(-90 98.7 399.9)" textLength="36" lengthAdjust="spacingAndGlyphs" fill="#222" stroke="#222" stroke-width="0.12">CD56dim NK</text>
<line x1="139.5" y1="314.1" x2="139.5" y2="394" stroke="#000" stroke-width="1.1"/>
<line x1="136.7" y1="393.5" x2="139.5" y2="393.5" stroke="#000" stroke-width="0.9"/>
<text x="133.6" y="395.72" font-size="6.2" text-anchor="end" fill="#1a1a1a" stroke="#1a1a1a" stroke-width="0.12">0</text>
<line x1="136.7" y1="378.22" x2="139.5" y2="378.22" stroke="#000" stroke-width="0.9"/>
<text x="133.6" y="380.44" font-size="6.2" text-anchor="end" fill="#1a1a1a" stroke="#1a1a1a" stroke-width="0.12">20</text>
<line x1="136.7" y1="362.94" x2="139.5" y2="362.94" stroke="#000" stroke-width="0.9"/>
<text x="133.6" y="365.16" font-size="6.2" text-anchor="end" fill="#1a1a1a" stroke="#1a1a1a" stroke-width="0.12">40</text>
<line x1="136.7" y1="347.66" x2="139.5" y2="347.66" stroke="#000" stroke-width="0.9"/>
<text x="133.6" y="349.88" font-size="6.2" text-anchor="end" fill="#1a1a1a" stroke="#1a1a1a" stroke-width="0.12">60</text>
<line x1="136.7" y1="332.38" x2="139.5" y2="332.38" stroke="#000" stroke-width="0.9"/>
<text x="133.6" y="334.6" font-size="6.2" text-anchor="end" fill="#1a1a1a" stroke="#1a1a1a" stroke-width="0.12">80</text>
<line x1="136.7" y1="317.1" x2="139.5" y2="317.1" stroke="#000" stroke-width="0.9"/>
<text x="133.6" y="319.32" font-size="6.2" text-anchor="end" fill="#1a1a1a" stroke="#1a1a1a" stroke-width="0.12">100</text>
<rect x="147.4" y="382.8" width="10.2" height="10.7" fill="#bea6c6"/>
<rect x="162.8" y="362.18" width="10.2" height="31.32" fill="#e58d91"/>
<rect x="178.2" y="356.06" width="10.2" height="37.44" fill="#fdf180"/>
<rect x="193.6" y="323.21" width="10.2" height="70.29" fill="#f4ddbd"/>
<line x1="152.5" y1="382.8" x2="152.5" y2="378.98" stroke="#222" stroke-width="0.8"/>
<line x1="149.9" y1="378.98" x2="155.1" y2="378.98" stroke="#222" stroke-width="0.8"/>
<line x1="167.9" y1="362.18" x2="167.9" y2="356.83" stroke="#222" stroke-width="0.8"/>
<line x1="165.3" y1="356.83" x2="170.5" y2="356.83" stroke="#222" stroke-width="0.8"/>
<line x1="183.3" y1="356.06" x2="183.3" y2="349.95" stroke="#222" stroke-width="0.8"/>
<line x1="180.7" y1="349.95" x2="185.9" y2="349.95" stroke="#222" stroke-width="0.8"/>
<line x1="198.7" y1="323.21" x2="198.7" y2="321.68" stroke="#222" stroke-width="0.8"/>
<line x1="196.1" y1="321.68" x2="201.3" y2="321.68" stroke="#222" stroke-width="0.8"/>
<circle cx="152.5" cy="357.59" r="1.45" fill="#2d0633"/>
<circle cx="156.3" cy="358.36" r="1.45" fill="#2d0633"/>
<circle cx="152.5" cy="368.29" r="1.45" fill="#2d0633"/>
<circle cx="152.5" cy="378.22" r="1.45" fill="#2d0633"/>
<circle cx="152.5" cy="387.39" r="1.45" fill="#2d0633"/>
<circle cx="156.3" cy="389.68" r="1.45" fill="#2d0633"/>
<circle cx="152.5" cy="390.44" r="1.45" fill="#2d0633"/>
<circle cx="148.7" cy="391.21" r="1.45" fill="#2d0633"/>
<circle cx="156.3" cy="391.97" r="1.45" fill="#2d0633"/>
<circle cx="152.5" cy="392.74" r="1.45" fill="#2d0633"/>
<circle cx="148.7" cy="393.12" r="1.45" fill="#2d0633"/>
<circle cx="167.9" cy="339.26" r="1.3" fill="#a3000f" stroke="#2a0000" stroke-width="0.5"/>
<circle cx="171.7" cy="340.02" r="1.3" fill="#a3000f" stroke="#2a0000" stroke-width="0.5"/>
<circle cx="167.9" cy="343.08" r="1.3" fill="#a3000f" stroke="#2a0000" stroke-width="0.5"/>
<circle cx="167.9" cy="349.19" r="1.3" fill="#a3000f" stroke="#2a0000" stroke-width="0.5"/>
<circle cx="171.7" cy="349.95" r="1.3" fill="#a3000f" stroke="#2a0000" stroke-width="0.5"/>
<circle cx="167.9" cy="359.12" r="1.3" fill="#a3000f" stroke="#2a0000" stroke-width="0.5"/>
<circle cx="167.9" cy="364.47" r="1.3" fill="#a3000f" stroke="#2a0000" stroke-width="0.5"/>
<circle cx="167.9" cy="370.58" r="1.3" fill="#a3000f" stroke="#2a0000" stroke-width="0.5"/>
<circle cx="167.9" cy="378.98" r="1.3" fill="#a3000f" stroke="#2a0000" stroke-width="0.5"/>
<circle cx="167.9" cy="383.57" r="1.3" fill="#a3000f" stroke="#2a0000" stroke-width="0.5"/>
<circle cx="167.9" cy="389.68" r="1.3" fill="#a3000f" stroke="#2a0000" stroke-width="0.5"/>
<circle cx="183.3" cy="320.16" r="1.25" fill="#f4dc0a" stroke="#3a3300" stroke-width="0.5"/>
<circle cx="183.3" cy="334.67" r="1.25" fill="#f4dc0a" stroke="#3a3300" stroke-width="0.5"/>
<circle cx="183.3" cy="337.73" r="1.25" fill="#f4dc0a" stroke="#3a3300" stroke-width="0.5"/>
<circle cx="183.3" cy="343.84" r="1.25" fill="#f4dc0a" stroke="#3a3300" stroke-width="0.5"/>
<circle cx="183.3" cy="346.9" r="1.25" fill="#f4dc0a" stroke="#3a3300" stroke-width="0.5"/>
<circle cx="187.1" cy="348.42" r="1.25" fill="#f4dc0a" stroke="#3a3300" stroke-width="0.5"/>
<circle cx="183.3" cy="351.48" r="1.25" fill="#f4dc0a" stroke="#3a3300" stroke-width="0.5"/>
<circle cx="183.3" cy="365.23" r="1.25" fill="#f4dc0a" stroke="#3a3300" stroke-width="0.5"/>
<circle cx="183.3" cy="379.75" r="1.25" fill="#f4dc0a" stroke="#3a3300" stroke-width="0.5"/>
<circle cx="187.1" cy="380.51" r="1.25" fill="#f4dc0a" stroke="#3a3300" stroke-width="0.5"/>
<circle cx="183.3" cy="390.44" r="1.25" fill="#f4dc0a" stroke="#3a3300" stroke-width="0.5"/>
<circle cx="198.7" cy="317.1" r="1.25" fill="#d8a94c" stroke="#4a3a20" stroke-width="0.5"/>
<circle cx="202.5" cy="317.86" r="1.25" fill="#d8a94c" stroke="#4a3a20" stroke-width="0.5"/>
<circle cx="194.9" cy="318.63" r="1.25" fill="#d8a94c" stroke="#4a3a20" stroke-width="0.5"/>
<circle cx="198.7" cy="319.39" r="1.25" fill="#d8a94c" stroke="#4a3a20" stroke-width="0.5"/>
<circle cx="202.5" cy="320.16" r="1.25" fill="#d8a94c" stroke="#4a3a20" stroke-width="0.5"/>
<circle cx="194.9" cy="320.92" r="1.25" fill="#d8a94c" stroke="#4a3a20" stroke-width="0.5"/>
<circle cx="198.7" cy="324.74" r="1.25" fill="#d8a94c" stroke="#4a3a20" stroke-width="0.5"/>
<circle cx="202.5" cy="326.27" r="1.25" fill="#d8a94c" stroke="#4a3a20" stroke-width="0.5"/>
<circle cx="198.7" cy="327.8" r="1.25" fill="#d8a94c" stroke="#4a3a20" stroke-width="0.5"/>
<circle cx="198.7" cy="339.26" r="1.25" fill="#d8a94c" stroke="#4a3a20" stroke-width="0.5"/>
<line x1="139" y1="393.5" x2="210.7" y2="393.5" stroke="#000" stroke-width="1.1"/>
<line x1="152.5" y1="393.5" x2="152.5" y2="395.7" stroke="#000" stroke-width="0.8"/>
<line x1="167.9" y1="393.5" x2="167.9" y2="395.7" stroke="#000" stroke-width="0.8"/>
<line x1="183.3" y1="393.5" x2="183.3" y2="395.7" stroke="#000" stroke-width="0.8"/>
<line x1="198.7" y1="393.5" x2="198.7" y2="395.7" stroke="#000" stroke-width="0.8"/>
<text x="175.3" y="302.8" font-size="8.3" text-anchor="middle" textLength="26.3" lengthAdjust="spacingAndGlyphs" stroke="#111" stroke-width="0.12">perforin</text>
<line x1="151.1" y1="332.3" x2="168.4" y2="332.3" stroke="#1a1a1a" stroke-width="0.9"/>
<circle cx="158.47" cy="328.7" r="0.82" fill="#111"/>
<circle cx="161.03" cy="328.7" r="0.82" fill="#111"/>
<line x1="168.4" y1="313.2" x2="200.2" y2="313.2" stroke="#1a1a1a" stroke-width="0.9"/>
<circle cx="180.48" cy="309.6" r="0.82" fill="#111"/>
<circle cx="183.03" cy="309.6" r="0.82" fill="#111"/>
<circle cx="185.58" cy="309.6" r="0.82" fill="#111"/>
<circle cx="188.13" cy="309.6" r="0.82" fill="#111"/>
<text x="154.7" y="399.3" font-size="6.3" text-anchor="end" transform="rotate(-90 154.7 399.3)" textLength="13.2" lengthAdjust="spacingAndGlyphs" fill="#222" stroke="#222" stroke-width="0.12">ILCP</text>
<text x="170.1" y="399.3" font-size="6.3" text-anchor="end" transform="rotate(-90 170.1 399.3)" textLength="45.5" lengthAdjust="spacingAndGlyphs" fill="#222" stroke="#222" stroke-width="0.12">CD56+ ILC1-like</text>
<text x="185.5" y="399.3" font-size="6.3" text-anchor="end" transform="rotate(-90 185.5 399.3)" textLength="42" lengthAdjust="spacingAndGlyphs" fill="#222" stroke="#222" stroke-width="0.12">CD56bright NK</text>
<text x="200.9" y="399.3" font-size="6.3" text-anchor="end" transform="rotate(-90 200.9 399.3)" textLength="36" lengthAdjust="spacingAndGlyphs" fill="#222" stroke="#222" stroke-width="0.12">CD56dim NK</text>
<line x1="243" y1="313.9" x2="243" y2="392.8" stroke="#000" stroke-width="1.1"/>
<line x1="240.2" y1="392.3" x2="243" y2="392.3" stroke="#000" stroke-width="0.9"/>
<text x="237.1" y="394.52" font-size="6.2" text-anchor="end" fill="#1a1a1a" stroke="#1a1a1a" stroke-width="0.12">0</text>
<line x1="240.2" y1="377.22" x2="243" y2="377.22" stroke="#000" stroke-width="0.9"/>
<text x="237.1" y="379.44" font-size="6.2" text-anchor="end" fill="#1a1a1a" stroke="#1a1a1a" stroke-width="0.12">20</text>
<line x1="240.2" y1="362.14" x2="243" y2="362.14" stroke="#000" stroke-width="0.9"/>
<text x="237.1" y="364.36" font-size="6.2" text-anchor="end" fill="#1a1a1a" stroke="#1a1a1a" stroke-width="0.12">40</text>
<line x1="240.2" y1="347.06" x2="243" y2="347.06" stroke="#000" stroke-width="0.9"/>
<text x="237.1" y="349.28" font-size="6.2" text-anchor="end" fill="#1a1a1a" stroke="#1a1a1a" stroke-width="0.12">60</text>
<line x1="240.2" y1="331.98" x2="243" y2="331.98" stroke="#000" stroke-width="0.9"/>
<text x="237.1" y="334.2" font-size="6.2" text-anchor="end" fill="#1a1a1a" stroke="#1a1a1a" stroke-width="0.12">80</text>
<line x1="240.2" y1="316.9" x2="243" y2="316.9" stroke="#000" stroke-width="0.9"/>
<text x="237.1" y="319.12" font-size="6.2" text-anchor="end" fill="#1a1a1a" stroke="#1a1a1a" stroke-width="0.12">100</text>
<rect x="250.4" y="387.78" width="10.2" height="4.52" fill="#bea6c6"/>
<rect x="265.6" y="381.74" width="10.2" height="10.56" fill="#e58d91"/>
<rect x="280.8" y="379.48" width="10.2" height="12.82" fill="#fdf180"/>
<rect x="296" y="384.76" width="10.2" height="7.54" fill="#f4ddbd"/>
<line x1="255.5" y1="387.78" x2="255.5" y2="384.76" stroke="#222" stroke-width="0.8"/>
<line x1="252.9" y1="384.76" x2="258.1" y2="384.76" stroke="#222" stroke-width="0.8"/>
<line x1="270.7" y1="381.74" x2="270.7" y2="378.73" stroke="#222" stroke-width="0.8"/>
<line x1="268.1" y1="378.73" x2="273.3" y2="378.73" stroke="#222" stroke-width="0.8"/>
<line x1="285.9" y1="379.48" x2="285.9" y2="375.71" stroke="#222" stroke-width="0.8"/>
<line x1="283.3" y1="375.71" x2="288.5" y2="375.71" stroke="#222" stroke-width="0.8"/>
<line x1="301.1" y1="384.76" x2="301.1" y2="382.5" stroke="#222" stroke-width="0.8"/>
<line x1="298.5" y1="382.5" x2="303.7" y2="382.5" stroke="#222" stroke-width="0.8"/>
<circle cx="255.5" cy="357.62" r="1.45" fill="#2d0633"/>
<circle cx="255.5" cy="386.27" r="1.45" fill="#2d0633"/>
<circle cx="259.3" cy="387.78" r="1.45" fill="#2d0633"/>
<circle cx="251.7" cy="388.53" r="1.45" fill="#2d0633"/>
<circle cx="255.5" cy="389.28" r="1.45" fill="#2d0633"/>
<circle cx="259.3" cy="390.04" r="1.45" fill="#2d0633"/>
<circle cx="251.7" cy="390.79" r="1.45" fill="#2d0633"/>
<circle cx="255.5" cy="391.55" r="1.45" fill="#2d0633"/>
<circle cx="270.7" cy="347.06" r="1.3" fill="#a3000f" stroke="#2a0000" stroke-width="0.5"/>
<circle cx="270.7" cy="379.48" r="1.3" fill="#a3000f" stroke="#2a0000" stroke-width="0.5"/>
<circle cx="274.5" cy="380.99" r="1.3" fill="#a3000f" stroke="#2a0000" stroke-width="0.5"/>
<circle cx="266.9" cy="381.74" r="1.3" fill="#a3000f" stroke="#2a0000" stroke-width="0.5"/>
<circle cx="270.7" cy="383.25" r="1.3" fill="#a3000f" stroke="#2a0000" stroke-width="0.5"/>
<circle cx="274.5" cy="384.76" r="1.3" fill="#a3000f" stroke="#2a0000" stroke-width="0.5"/>
<circle cx="270.7" cy="386.27" r="1.3" fill="#a3000f" stroke="#2a0000" stroke-width="0.5"/>
<circle cx="274.5" cy="387.78" r="1.3" fill="#a3000f" stroke="#2a0000" stroke-width="0.5"/>
<circle cx="266.9" cy="388.53" r="1.3" fill="#a3000f" stroke="#2a0000" stroke-width="0.5"/>
<circle cx="270.7" cy="390.04" r="1.3" fill="#a3000f" stroke="#2a0000" stroke-width="0.5"/>
<circle cx="285.9" cy="335.75" r="1.25" fill="#f4dc0a" stroke="#3a3300" stroke-width="0.5"/>
<circle cx="285.9" cy="369.68" r="1.25" fill="#f4dc0a" stroke="#3a3300" stroke-width="0.5"/>
<circle cx="289.7" cy="371.94" r="1.25" fill="#f4dc0a" stroke="#3a3300" stroke-width="0.5"/>
<circle cx="285.9" cy="375.71" r="1.25" fill="#f4dc0a" stroke="#3a3300" stroke-width="0.5"/>
<circle cx="285.9" cy="378.73" r="1.25" fill="#f4dc0a" stroke="#3a3300" stroke-width="0.5"/>
<circle cx="285.9" cy="381.74" r="1.25" fill="#f4dc0a" stroke="#3a3300" stroke-width="0.5"/>
<circle cx="289.7" cy="384.01" r="1.25" fill="#f4dc0a" stroke="#3a3300" stroke-width="0.5"/>
<circle cx="285.9" cy="386.27" r="1.25" fill="#f4dc0a" stroke="#3a3300" stroke-width="0.5"/>
<circle cx="289.7" cy="387.78" r="1.25" fill="#f4dc0a" stroke="#3a3300" stroke-width="0.5"/>
<circle cx="285.9" cy="389.28" r="1.25" fill="#f4dc0a" stroke="#3a3300" stroke-width="0.5"/>
<circle cx="289.7" cy="390.79" r="1.25" fill="#f4dc0a" stroke="#3a3300" stroke-width="0.5"/>
<circle cx="282.1" cy="391.55" r="1.25" fill="#f4dc0a" stroke="#3a3300" stroke-width="0.5"/>
<circle cx="301.1" cy="374.96" r="1.25" fill="#d8a94c" stroke="#4a3a20" stroke-width="0.5"/>
<circle cx="304.9" cy="375.71" r="1.25" fill="#d8a94c" stroke="#4a3a20" stroke-width="0.5"/>
<circle cx="301.1" cy="380.24" r="1.25" fill="#d8a94c" stroke="#4a3a20" stroke-width="0.5"/>
<circle cx="304.9" cy="381.74" r="1.25" fill="#d8a94c" stroke="#4a3a20" stroke-width="0.5"/>
<circle cx="301.1" cy="383.25" r="1.25" fill="#d8a94c" stroke="#4a3a20" stroke-width="0.5"/>
<circle cx="304.9" cy="385.51" r="1.25" fill="#d8a94c" stroke="#4a3a20" stroke-width="0.5"/>
<circle cx="301.1" cy="387.02" r="1.25" fill="#d8a94c" stroke="#4a3a20" stroke-width="0.5"/>
<circle cx="304.9" cy="388.53" r="1.25" fill="#d8a94c" stroke="#4a3a20" stroke-width="0.5"/>
<circle cx="297.3" cy="389.28" r="1.25" fill="#d8a94c" stroke="#4a3a20" stroke-width="0.5"/>
<circle cx="301.1" cy="390.79" r="1.25" fill="#d8a94c" stroke="#4a3a20" stroke-width="0.5"/>
<circle cx="304.9" cy="391.55" r="1.25" fill="#d8a94c" stroke="#4a3a20" stroke-width="0.5"/>
<line x1="242.5" y1="392.3" x2="313.1" y2="392.3" stroke="#000" stroke-width="1.1"/>
<line x1="255.5" y1="392.3" x2="255.5" y2="394.5" stroke="#000" stroke-width="0.8"/>
<line x1="270.7" y1="392.3" x2="270.7" y2="394.5" stroke="#000" stroke-width="0.8"/>
<line x1="285.9" y1="392.3" x2="285.9" y2="394.5" stroke="#000" stroke-width="0.8"/>
<line x1="301.1" y1="392.3" x2="301.1" y2="394.5" stroke="#000" stroke-width="0.8"/>
<text x="279" y="302.8" font-size="8.3" text-anchor="middle" textLength="36.1" lengthAdjust="spacingAndGlyphs" stroke="#111" stroke-width="0.12">granulysin</text>
<line x1="255.2" y1="334.2" x2="272.8" y2="334.2" stroke="#1a1a1a" stroke-width="0.9"/>
<circle cx="264" cy="330.6" r="0.82" fill="#111"/>
<text x="257.7" y="398.1" font-size="6.3" text-anchor="end" transform="rotate(-90 257.7 398.1)" textLength="13.2" lengthAdjust="spacingAndGlyphs" fill="#222" stroke="#222" stroke-width="0.12">ILCP</text>
<text x="272.9" y="398.1" font-size="6.3" text-anchor="end" transform="rotate(-90 272.9 398.1)" textLength="45.5" lengthAdjust="spacingAndGlyphs" fill="#222" stroke="#222" stroke-width="0.12">CD56+ ILC1-like</text>
<text x="288.1" y="398.1" font-size="6.3" text-anchor="end" transform="rotate(-90 288.1 398.1)" textLength="42" lengthAdjust="spacingAndGlyphs" fill="#222" stroke="#222" stroke-width="0.12">CD56bright NK</text>
<text x="303.3" y="398.1" font-size="6.3" text-anchor="end" transform="rotate(-90 303.3 398.1)" textLength="36" lengthAdjust="spacingAndGlyphs" fill="#222" stroke="#222" stroke-width="0.12">CD56dim NK</text>
<text x="12.8" y="192.5" font-size="6.6" text-anchor="middle" transform="rotate(-90 12.8 192.5)" textLength="43.5" lengthAdjust="spacingAndGlyphs" stroke="#111" stroke-width="0.3">Positive cells (%)</text>
<text x="12.7" y="354.8" font-size="6.6" text-anchor="middle" transform="rotate(-90 12.7 354.8)" textLength="43.5" lengthAdjust="spacingAndGlyphs" stroke="#111" stroke-width="0.3">Positive cells (%)</text>
<text x="369" y="14.75" font-size="10.9" font-weight="bold" textLength="7.66" lengthAdjust="spacingAndGlyphs" fill="#000" stroke="#000" stroke-width="0.25">C</text>
<line x1="393.6" y1="31" x2="393.6" y2="105.7" stroke="#000" stroke-width="1.1"/>
<line x1="390.8" y1="105.2" x2="393.6" y2="105.2" stroke="#000" stroke-width="0.9"/>
<text x="388.6" y="107.6" font-size="6.7" text-anchor="end" fill="#1a1a1a" stroke="#1a1a1a" stroke-width="0.12">0</text>
<line x1="390.8" y1="90.86" x2="393.6" y2="90.86" stroke="#000" stroke-width="0.9"/>
<text x="388.6" y="93.26" font-size="6.7" text-anchor="end" fill="#1a1a1a" stroke="#1a1a1a" stroke-width="0.12">10</text>
<line x1="390.8" y1="76.52" x2="393.6" y2="76.52" stroke="#000" stroke-width="0.9"/>
<text x="388.6" y="78.92" font-size="6.7" text-anchor="end" fill="#1a1a1a" stroke="#1a1a1a" stroke-width="0.12">20</text>
<line x1="390.8" y1="62.18" x2="393.6" y2="62.18" stroke="#000" stroke-width="0.9"/>
<text x="388.6" y="64.58" font-size="6.7" text-anchor="end" fill="#1a1a1a" stroke="#1a1a1a" stroke-width="0.12">30</text>
<line x1="390.8" y1="47.84" x2="393.6" y2="47.84" stroke="#000" stroke-width="0.9"/>
<text x="388.6" y="50.24" font-size="6.7" text-anchor="end" fill="#1a1a1a" stroke="#1a1a1a" stroke-width="0.12">40</text>
<line x1="390.8" y1="33.5" x2="393.6" y2="33.5" stroke="#000" stroke-width="0.9"/>
<text x="388.6" y="35.9" font-size="6.7" text-anchor="end" fill="#1a1a1a" stroke="#1a1a1a" stroke-width="0.12">50</text>
<line x1="393.1" y1="105.2" x2="445.8" y2="105.2" stroke="#000" stroke-width="1.1"/>
<line x1="408.5" y1="105.2" x2="408.5" y2="107.2" stroke="#000" stroke-width="0.8"/>
<line x1="431.3" y1="105.2" x2="431.3" y2="107.2" stroke="#000" stroke-width="0.8"/>
<text x="408.5" y="116.4" font-size="6.2" text-anchor="middle" textLength="20.8" lengthAdjust="spacingAndGlyphs" stroke="#111" stroke-width="0.12">medium</text>
<text x="431.3" y="116.4" font-size="6.2" text-anchor="middle" textLength="14.6" lengthAdjust="spacingAndGlyphs" stroke="#111" stroke-width="0.12">K562</text>
<text x="375" y="67.7" font-size="6.7" text-anchor="middle" transform="rotate(-90 375 67.7)" textLength="35" lengthAdjust="spacingAndGlyphs" stroke="#111" stroke-width="0.3">CD107a+ (%)</text>
<circle cx="416.05" cy="21.4" r="0.85" fill="#111"/>
<circle cx="418.75" cy="21.4" r="0.85" fill="#111"/>
<circle cx="421.45" cy="21.4" r="0.85" fill="#111"/>
<circle cx="424.15" cy="21.4" r="0.85" fill="#111"/>
<line x1="408.5" y1="101.47" x2="431.3" y2="35.36" stroke="#111" stroke-width="0.95"/>
<line x1="408.5" y1="103.91" x2="431.3" y2="57.16" stroke="#111" stroke-width="0.95"/>
<line x1="408.5" y1="102.91" x2="431.3" y2="58.74" stroke="#111" stroke-width="0.95"/>
<line x1="408.5" y1="99.61" x2="431.3" y2="60.46" stroke="#111" stroke-width="0.95"/>
<line x1="408.5" y1="104.48" x2="431.3" y2="63.33" stroke="#111" stroke-width="0.95"/>
<line x1="408.5" y1="97.46" x2="431.3" y2="67.34" stroke="#111" stroke-width="0.95"/>
<line x1="408.5" y1="98.75" x2="431.3" y2="70.78" stroke="#111" stroke-width="0.95"/>
<line x1="408.5" y1="95.45" x2="431.3" y2="75.09" stroke="#111" stroke-width="0.95"/>
<line x1="408.5" y1="93.73" x2="431.3" y2="77.81" stroke="#111" stroke-width="0.95"/>
<line x1="408.5" y1="92.29" x2="431.3" y2="82.69" stroke="#111" stroke-width="0.95"/>
<line x1="408.5" y1="90.86" x2="431.3" y2="85.55" stroke="#111" stroke-width="0.95"/>
<line x1="408.5" y1="90.14" x2="431.3" y2="88.71" stroke="#111" stroke-width="0.95"/>
<line x1="408.5" y1="82.26" x2="431.3" y2="61.46" stroke="#111" stroke-width="0.95"/>
<line x1="408.5" y1="94.45" x2="431.3" y2="72.22" stroke="#111" stroke-width="0.95"/>
<line x1="408.5" y1="96.6" x2="431.3" y2="84.41" stroke="#111" stroke-width="0.95"/>
<circle cx="408.5" cy="101.47" r="1.5" fill="#cf1a22" stroke="#2a0000" stroke-width="0.55"/>
<circle cx="431.3" cy="35.36" r="1.5" fill="#cf1a22" stroke="#2a0000" stroke-width="0.55"/>
<circle cx="408.5" cy="103.91" r="1.5" fill="#cf1a22" stroke="#2a0000" stroke-width="0.55"/>
<circle cx="431.3" cy="57.16" r="1.5" fill="#cf1a22" stroke="#2a0000" stroke-width="0.55"/>
<circle cx="408.5" cy="102.91" r="1.5" fill="#cf1a22" stroke="#2a0000" stroke-width="0.55"/>
<circle cx="431.3" cy="58.74" r="1.5" fill="#cf1a22" stroke="#2a0000" stroke-width="0.55"/>
<circle cx="408.5" cy="99.61" r="1.5" fill="#cf1a22" stroke="#2a0000" stroke-width="0.55"/>
<circle cx="431.3" cy="60.46" r="1.5" fill="#cf1a22" stroke="#2a0000" stroke-width="0.55"/>
<circle cx="408.5" cy="104.48" r="1.5" fill="#cf1a22" stroke="#2a0000" stroke-width="0.55"/>
<circle cx="431.3" cy="63.33" r="1.5" fill="#cf1a22" stroke="#2a0000" stroke-width="0.55"/>
<circle cx="408.5" cy="97.46" r="1.5" fill="#cf1a22" stroke="#2a0000" stroke-width="0.55"/>
<circle cx="431.3" cy="67.34" r="1.5" fill="#cf1a22" stroke="#2a0000" stroke-width="0.55"/>
<circle cx="408.5" cy="98.75" r="1.5" fill="#cf1a22" stroke="#2a0000" stroke-width="0.55"/>
<circle cx="431.3" cy="70.78" r="1.5" fill="#cf1a22" stroke="#2a0000" stroke-width="0.55"/>
<circle cx="408.5" cy="95.45" r="1.5" fill="#cf1a22" stroke="#2a0000" stroke-width="0.55"/>
<circle cx="431.3" cy="75.09" r="1.5" fill="#cf1a22" stroke="#2a0000" stroke-width="0.55"/>
<circle cx="408.5" cy="93.73" r="1.5" fill="#cf1a22" stroke="#2a0000" stroke-width="0.55"/>
<circle cx="431.3" cy="77.81" r="1.5" fill="#cf1a22" stroke="#2a0000" stroke-width="0.55"/>
<circle cx="408.5" cy="92.29" r="1.5" fill="#cf1a22" stroke="#2a0000" stroke-width="0.55"/>
<circle cx="431.3" cy="82.69" r="1.5" fill="#cf1a22" stroke="#2a0000" stroke-width="0.55"/>
<circle cx="408.5" cy="90.86" r="1.5" fill="#cf1a22" stroke="#2a0000" stroke-width="0.55"/>
<circle cx="431.3" cy="85.55" r="1.5" fill="#cf1a22" stroke="#2a0000" stroke-width="0.55"/>
<circle cx="408.5" cy="90.14" r="1.5" fill="#cf1a22" stroke="#2a0000" stroke-width="0.55"/>
<circle cx="431.3" cy="88.71" r="1.5" fill="#cf1a22" stroke="#2a0000" stroke-width="0.55"/>
<circle cx="408.5" cy="82.26" r="1.5" fill="#cf1a22" stroke="#2a0000" stroke-width="0.55"/>
<circle cx="431.3" cy="61.46" r="1.5" fill="#cf1a22" stroke="#2a0000" stroke-width="0.55"/>
<circle cx="408.5" cy="94.45" r="1.5" fill="#cf1a22" stroke="#2a0000" stroke-width="0.55"/>
<circle cx="431.3" cy="72.22" r="1.5" fill="#cf1a22" stroke="#2a0000" stroke-width="0.55"/>
<circle cx="408.5" cy="96.6" r="1.5" fill="#cf1a22" stroke="#2a0000" stroke-width="0.55"/>
<circle cx="431.3" cy="84.41" r="1.5" fill="#cf1a22" stroke="#2a0000" stroke-width="0.55"/>
<text x="365.6" y="137.15" font-size="10.9" font-weight="bold" textLength="8.04" lengthAdjust="spacingAndGlyphs" fill="#000" stroke="#000" stroke-width="0.25">D</text>
<line x1="394.2" y1="155.4" x2="394.2" y2="238.5" stroke="#000" stroke-width="1.1"/>
<line x1="391.4" y1="238" x2="394.2" y2="238" stroke="#000" stroke-width="0.9"/>
<text x="388.3" y="240.22" font-size="6.2" text-anchor="end" fill="#1a1a1a" stroke="#1a1a1a" stroke-width="0.12">0</text>
<line x1="391.4" y1="222.08" x2="394.2" y2="222.08" stroke="#000" stroke-width="0.9"/>
<text x="388.3" y="224.3" font-size="6.2" text-anchor="end" fill="#1a1a1a" stroke="#1a1a1a" stroke-width="0.12">20</text>
<line x1="391.4" y1="206.16" x2="394.2" y2="206.16" stroke="#000" stroke-width="0.9"/>
<text x="388.3" y="208.38" font-size="6.2" text-anchor="end" fill="#1a1a1a" stroke="#1a1a1a" stroke-width="0.12">40</text>
<line x1="391.4" y1="190.24" x2="394.2" y2="190.24" stroke="#000" stroke-width="0.9"/>
<text x="388.3" y="192.46" font-size="6.2" text-anchor="end" fill="#1a1a1a" stroke="#1a1a1a" stroke-width="0.12">60</text>
<line x1="391.4" y1="174.32" x2="394.2" y2="174.32" stroke="#000" stroke-width="0.9"/>
<text x="388.3" y="176.54" font-size="6.2" text-anchor="end" fill="#1a1a1a" stroke="#1a1a1a" stroke-width="0.12">80</text>
<line x1="391.4" y1="158.4" x2="394.2" y2="158.4" stroke="#000" stroke-width="0.9"/>
<text x="388.3" y="160.62" font-size="6.2" text-anchor="end" fill="#1a1a1a" stroke="#1a1a1a" stroke-width="0.12">100</text>
<line x1="393.7" y1="238" x2="513" y2="238" stroke="#000" stroke-width="1.1"/>
<line x1="404.5" y1="238" x2="404.5" y2="240.2" stroke="#000" stroke-width="0.8"/>
<text x="404.5" y="250.2" font-size="6.5" text-anchor="middle" textLength="11.68" lengthAdjust="spacingAndGlyphs" fill="#1a1a1a" stroke="#1a1a1a" stroke-width="0.12">30.1</text>
<line x1="424.3" y1="238" x2="424.3" y2="240.2" stroke="#000" stroke-width="0.8"/>
<text x="424.3" y="250.2" font-size="6.5" text-anchor="middle" textLength="11.68" lengthAdjust="spacingAndGlyphs" fill="#1a1a1a" stroke="#1a1a1a" stroke-width="0.12">10.1</text>
<line x1="443.6" y1="238" x2="443.6" y2="240.2" stroke="#000" stroke-width="0.8"/>
<text x="443.6" y="250.2" font-size="6.5" text-anchor="middle" textLength="8.34" lengthAdjust="spacingAndGlyphs" fill="#1a1a1a" stroke="#1a1a1a" stroke-width="0.12">3.1</text>
<line x1="463.8" y1="238" x2="463.8" y2="240.2" stroke="#000" stroke-width="0.8"/>
<text x="463.8" y="250.2" font-size="6.5" text-anchor="middle" textLength="8.34" lengthAdjust="spacingAndGlyphs" fill="#1a1a1a" stroke="#1a1a1a" stroke-width="0.12">1.1</text>
<line x1="483.5" y1="238" x2="483.5" y2="240.2" stroke="#000" stroke-width="0.8"/>
<text x="483.5" y="250.2" font-size="6.5" text-anchor="middle" textLength="13.34" lengthAdjust="spacingAndGlyphs" fill="#1a1a1a" stroke="#1a1a1a" stroke-width="0.12">0.3.1</text>
<line x1="503.3" y1="238" x2="503.3" y2="240.2" stroke="#000" stroke-width="0.8"/>
<text x="503.3" y="250.2" font-size="6.5" text-anchor="middle" textLength="13.34" lengthAdjust="spacingAndGlyphs" fill="#1a1a1a" stroke="#1a1a1a" stroke-width="0.12">0.1.1</text>
<text x="454.6" y="261" font-size="7.9" text-anchor="middle" textLength="49.5" lengthAdjust="spacingAndGlyphs" fill="#1a1a1a" stroke="#1a1a1a" stroke-width="0.3">Effector:target ratio</text>
<text x="371.6" y="197.7" font-size="6.5" text-anchor="middle" transform="rotate(-90 371.6 197.7)" textLength="45" lengthAdjust="spacingAndGlyphs" fill="#1a1a1a" stroke="#1a1a1a" stroke-width="0.35">Specific lysis (%)</text>
<polyline points="404.5,235.21 424.3,236.41 443.6,236.81 463.8,237.6 483.5,237.6 503.3,236.41" stroke="#c8c8c8" stroke-width="1.2" fill="none"/>
<line x1="424.3" y1="158.8" x2="424.3" y2="170.26" stroke="#222" stroke-width="0.9"/>
<line x1="422.1" y1="158.8" x2="426.5" y2="158.8" stroke="#222" stroke-width="0.9"/>
<line x1="422.1" y1="170.26" x2="426.5" y2="170.26" stroke="#222" stroke-width="0.9"/>
<line x1="443.6" y1="169.15" x2="443.6" y2="177.11" stroke="#222" stroke-width="0.9"/>
<line x1="441.4" y1="169.15" x2="445.8" y2="169.15" stroke="#222" stroke-width="0.9"/>
<line x1="441.4" y1="177.11" x2="445.8" y2="177.11" stroke="#222" stroke-width="0.9"/>
<line x1="463.8" y1="182.52" x2="463.8" y2="187.29" stroke="#222" stroke-width="0.9"/>
<line x1="461.6" y1="182.52" x2="466" y2="182.52" stroke="#222" stroke-width="0.9"/>
<line x1="461.6" y1="187.29" x2="466" y2="187.29" stroke="#222" stroke-width="0.9"/>
<line x1="483.5" y1="202.02" x2="483.5" y2="207.75" stroke="#222" stroke-width="0.9"/>
<line x1="481.3" y1="202.02" x2="485.7" y2="202.02" stroke="#222" stroke-width="0.9"/>
<line x1="481.3" y1="207.75" x2="485.7" y2="207.75" stroke="#222" stroke-width="0.9"/>
<line x1="503.3" y1="216.91" x2="503.3" y2="224.87" stroke="#222" stroke-width="0.9"/>
<line x1="501.1" y1="216.91" x2="505.5" y2="216.91" stroke="#222" stroke-width="0.9"/>
<line x1="501.1" y1="224.87" x2="505.5" y2="224.87" stroke="#222" stroke-width="0.9"/>
<line x1="424.3" y1="159.59" x2="424.3" y2="164.37" stroke="#222" stroke-width="0.9"/>
<line x1="422.1" y1="159.59" x2="426.5" y2="159.59" stroke="#222" stroke-width="0.9"/>
<line x1="422.1" y1="164.37" x2="426.5" y2="164.37" stroke="#222" stroke-width="0.9"/>
<line x1="443.6" y1="174.08" x2="443.6" y2="177.27" stroke="#222" stroke-width="0.9"/>
<line x1="441.4" y1="174.08" x2="445.8" y2="174.08" stroke="#222" stroke-width="0.9"/>
<line x1="441.4" y1="177.27" x2="445.8" y2="177.27" stroke="#222" stroke-width="0.9"/>
<line x1="503.3" y1="229.88" x2="503.3" y2="234.66" stroke="#222" stroke-width="0.9"/>
<line x1="501.1" y1="229.88" x2="505.5" y2="229.88" stroke="#222" stroke-width="0.9"/>
<line x1="501.1" y1="234.66" x2="505.5" y2="234.66" stroke="#222" stroke-width="0.9"/>
<polyline points="404.5,159.28 424.3,164.53 443.6,173.13 463.8,184.91 483.5,204.89 503.3,220.89" stroke="#1f4391" stroke-width="1.7" fill="none"/>
<polyline points="404.5,158.4 424.3,161.98 443.6,175.67 463.8,206.4 483.5,220.57 503.3,232.27" stroke="#e0242a" stroke-width="1.6" fill="none"/>
<circle cx="404.5" cy="235.21" r="2" fill="#fafafa" stroke="#555" stroke-width="0.75"/>
<circle cx="424.3" cy="236.41" r="2" fill="#fafafa" stroke="#555" stroke-width="0.75"/>
<circle cx="443.6" cy="236.81" r="2" fill="#fafafa" stroke="#555" stroke-width="0.75"/>
<circle cx="463.8" cy="237.6" r="2" fill="#fafafa" stroke="#555" stroke-width="0.75"/>
<circle cx="483.5" cy="237.6" r="2" fill="#fafafa" stroke="#555" stroke-width="0.75"/>
<circle cx="503.3" cy="236.41" r="2" fill="#fafafa" stroke="#555" stroke-width="0.75"/>
<circle cx="404.5" cy="159.28" r="2" fill="#2a4c9c" stroke="#0a1530" stroke-width="0.8"/>
<circle cx="424.3" cy="164.53" r="2" fill="#2a4c9c" stroke="#0a1530" stroke-width="0.8"/>
<circle cx="443.6" cy="173.13" r="2" fill="#2a4c9c" stroke="#0a1530" stroke-width="0.8"/>
<circle cx="463.8" cy="184.91" r="2" fill="#2a4c9c" stroke="#0a1530" stroke-width="0.8"/>
<circle cx="483.5" cy="204.89" r="2" fill="#2a4c9c" stroke="#0a1530" stroke-width="0.8"/>
<circle cx="503.3" cy="220.89" r="2" fill="#2a4c9c" stroke="#0a1530" stroke-width="0.8"/>
<circle cx="404.5" cy="158.4" r="2" fill="#e4222a" stroke="#300" stroke-width="0.8"/>
<circle cx="424.3" cy="161.98" r="2" fill="#e4222a" stroke="#300" stroke-width="0.8"/>
<circle cx="443.6" cy="175.67" r="2" fill="#e4222a" stroke="#300" stroke-width="0.8"/>
<circle cx="463.8" cy="206.4" r="2" fill="#e4222a" stroke="#300" stroke-width="0.8"/>
<circle cx="483.5" cy="220.57" r="2" fill="#e4222a" stroke="#300" stroke-width="0.8"/>
<circle cx="503.3" cy="232.27" r="2" fill="#e4222a" stroke="#300" stroke-width="0.8"/>
<line x1="454.7" y1="150.8" x2="462.3" y2="150.8" stroke="#e0242a" stroke-width="1.3"/>
<circle cx="458.5" cy="150.8" r="2" fill="#e4222a" stroke="#300" stroke-width="0.8"/>
<text x="465.9" y="152.8" font-size="5.6" textLength="38.3" lengthAdjust="spacingAndGlyphs" stroke="#111" stroke-width="0.12">CD56+ ILC1-like</text>
<line x1="454.7" y1="160.7" x2="462.3" y2="160.7" stroke="#1f4391" stroke-width="1.3"/>
<circle cx="458.5" cy="160.7" r="2" fill="#2a4c9c" stroke="#0a1530" stroke-width="0.8"/>
<text x="465.9" y="162.7" font-size="5.6" textLength="7.6" lengthAdjust="spacingAndGlyphs" stroke="#111" stroke-width="0.12">NK</text>
<line x1="454.7" y1="170.6" x2="462.3" y2="170.6" stroke="#c8c8c8" stroke-width="1.3"/>
<circle cx="458.5" cy="170.6" r="2" fill="#fafafa" stroke="#444" stroke-width="0.8"/>
<text x="465.9" y="172.6" font-size="5.6" textLength="25.2" lengthAdjust="spacingAndGlyphs" stroke="#111" stroke-width="0.12">helper ILCs</text>
<text x="365.66" y="296.75" font-size="10.9" font-weight="bold" textLength="6.86" lengthAdjust="spacingAndGlyphs" fill="#000" stroke="#000" stroke-width="0.25">E</text>
<line x1="394.2" y1="312.7" x2="394.2" y2="393.7" stroke="#000" stroke-width="1.1"/>
<line x1="391.4" y1="393.2" x2="394.2" y2="393.2" stroke="#000" stroke-width="0.9"/>
<text x="388.3" y="395.42" font-size="6.2" text-anchor="end" fill="#1a1a1a" stroke="#1a1a1a" stroke-width="0.12">0</text>
<line x1="391.4" y1="377.7" x2="394.2" y2="377.7" stroke="#000" stroke-width="0.9"/>
<text x="388.3" y="379.92" font-size="6.2" text-anchor="end" fill="#1a1a1a" stroke="#1a1a1a" stroke-width="0.12">20</text>
<line x1="391.4" y1="362.2" x2="394.2" y2="362.2" stroke="#000" stroke-width="0.9"/>
<text x="388.3" y="364.42" font-size="6.2" text-anchor="end" fill="#1a1a1a" stroke="#1a1a1a" stroke-width="0.12">40</text>
<line x1="391.4" y1="346.7" x2="394.2" y2="346.7" stroke="#000" stroke-width="0.9"/>
<text x="388.3" y="348.92" font-size="6.2" text-anchor="end" fill="#1a1a1a" stroke="#1a1a1a" stroke-width="0.12">60</text>
<line x1="391.4" y1="331.2" x2="394.2" y2="331.2" stroke="#000" stroke-width="0.9"/>
<text x="388.3" y="333.42" font-size="6.2" text-anchor="end" fill="#1a1a1a" stroke="#1a1a1a" stroke-width="0.12">80</text>
<line x1="391.4" y1="315.7" x2="394.2" y2="315.7" stroke="#000" stroke-width="0.9"/>
<text x="388.3" y="317.92" font-size="6.2" text-anchor="end" fill="#1a1a1a" stroke="#1a1a1a" stroke-width="0.12">100</text>
<line x1="393.7" y1="393.2" x2="511.5" y2="393.2" stroke="#000" stroke-width="1.1"/>
<line x1="404.5" y1="393.2" x2="404.5" y2="395.4" stroke="#000" stroke-width="0.8"/>
<text x="404.5" y="403.2" font-size="6.5" text-anchor="middle" textLength="11.68" lengthAdjust="spacingAndGlyphs" fill="#1a1a1a" stroke="#1a1a1a" stroke-width="0.12">30.1</text>
<line x1="423.4" y1="393.2" x2="423.4" y2="395.4" stroke="#000" stroke-width="0.8"/>
<text x="423.4" y="403.2" font-size="6.5" text-anchor="middle" textLength="11.68" lengthAdjust="spacingAndGlyphs" fill="#1a1a1a" stroke="#1a1a1a" stroke-width="0.12">10.1</text>
<line x1="442.5" y1="393.2" x2="442.5" y2="395.4" stroke="#000" stroke-width="0.8"/>
<text x="442.5" y="403.2" font-size="6.5" text-anchor="middle" textLength="8.34" lengthAdjust="spacingAndGlyphs" fill="#1a1a1a" stroke="#1a1a1a" stroke-width="0.12">3.1</text>
<line x1="462.3" y1="393.2" x2="462.3" y2="395.4" stroke="#000" stroke-width="0.8"/>
<text x="462.3" y="403.2" font-size="6.5" text-anchor="middle" textLength="8.34" lengthAdjust="spacingAndGlyphs" fill="#1a1a1a" stroke="#1a1a1a" stroke-width="0.12">1.1</text>
<line x1="482" y1="393.2" x2="482" y2="395.4" stroke="#000" stroke-width="0.8"/>
<text x="482" y="403.2" font-size="6.5" text-anchor="middle" textLength="13.34" lengthAdjust="spacingAndGlyphs" fill="#1a1a1a" stroke="#1a1a1a" stroke-width="0.12">0.3.1</text>
<line x1="501.2" y1="393.2" x2="501.2" y2="395.4" stroke="#000" stroke-width="0.8"/>
<text x="501.2" y="403.2" font-size="6.5" text-anchor="middle" textLength="13.34" lengthAdjust="spacingAndGlyphs" fill="#1a1a1a" stroke="#1a1a1a" stroke-width="0.12">0.1.1</text>
<text x="453.85" y="415.6" font-size="7.9" text-anchor="middle" textLength="49.5" lengthAdjust="spacingAndGlyphs" fill="#1a1a1a" stroke="#1a1a1a" stroke-width="0.3">Effector:target ratio</text>
<text x="371.4" y="353.4" font-size="6.5" text-anchor="middle" transform="rotate(-90 371.4 353.4)" textLength="44.8" lengthAdjust="spacingAndGlyphs" fill="#1a1a1a" stroke="#1a1a1a" stroke-width="0.35">Specific lysis (%)</text>
<line x1="404.5" y1="324.61" x2="404.5" y2="347.09" stroke="#111" stroke-width="0.8"/>
<line x1="402.5" y1="324.61" x2="406.5" y2="324.61" stroke="#111" stroke-width="0.8"/>
<line x1="402.5" y1="347.09" x2="406.5" y2="347.09" stroke="#111" stroke-width="0.8"/>
<line x1="423.4" y1="365.69" x2="423.4" y2="374.99" stroke="#111" stroke-width="0.8"/>
<line x1="421.4" y1="365.69" x2="425.4" y2="365.69" stroke="#111" stroke-width="0.8"/>
<line x1="421.4" y1="374.99" x2="425.4" y2="374.99" stroke="#111" stroke-width="0.8"/>
<line x1="442.5" y1="381.42" x2="442.5" y2="387.93" stroke="#111" stroke-width="0.8"/>
<line x1="440.5" y1="381.42" x2="444.5" y2="381.42" stroke="#111" stroke-width="0.8"/>
<line x1="440.5" y1="387.93" x2="444.5" y2="387.93" stroke="#111" stroke-width="0.8"/>
<polyline points="404.5,315.7 423.4,315.7 442.5,315.7 462.3,315.7 482,335.85 501.2,381.26" stroke="#111" stroke-width="1" fill="none"/>
<polyline points="404.5,315.7 423.4,319.57 442.5,332.75 462.3,362.2 482,375.38 501.2,387.39" stroke="#111" stroke-width="1" fill="none"/>
<polyline points="404.5,335.85 423.4,370.34 442.5,384.68 462.3,390.88 482,392.04 501.2,391.65" stroke="#111" stroke-width="1" fill="none"/>
<rect x="402.7" y="313.9" width="3.6" height="3.6" fill="#e2282c" stroke="#200" stroke-width="0.75"/>
<rect x="421.6" y="313.9" width="3.6" height="3.6" fill="#e2282c" stroke="#200" stroke-width="0.75"/>
<rect x="440.7" y="313.9" width="3.6" height="3.6" fill="#e2282c" stroke="#200" stroke-width="0.75"/>
<rect x="460.5" y="313.9" width="3.6" height="3.6" fill="#e2282c" stroke="#200" stroke-width="0.75"/>
<rect x="480.2" y="334.05" width="3.6" height="3.6" fill="#e2282c" stroke="#200" stroke-width="0.75"/>
<rect x="499.4" y="379.46" width="3.6" height="3.6" fill="#e2282c" stroke="#200" stroke-width="0.75"/>
<circle cx="404.5" cy="315.7" r="2.2" fill="#e2282c" stroke="#200" stroke-width="0.75"/>
<circle cx="423.4" cy="319.57" r="2.2" fill="#e2282c" stroke="#200" stroke-width="0.75"/>
<circle cx="442.5" cy="332.75" r="2.2" fill="#e2282c" stroke="#200" stroke-width="0.75"/>
<circle cx="462.3" cy="362.2" r="2.2" fill="#e2282c" stroke="#200" stroke-width="0.75"/>
<circle cx="482" cy="375.38" r="2.2" fill="#e2282c" stroke="#200" stroke-width="0.75"/>
<circle cx="501.2" cy="387.39" r="2.2" fill="#e2282c" stroke="#200" stroke-width="0.75"/>
<polygon points="401.7,333.33 407.3,333.33 404.5,338.37" fill="#e2282c" stroke="#200" stroke-width="0.75"/>
<polygon points="420.6,367.82 426.2,367.82 423.4,372.86" fill="#e2282c" stroke="#200" stroke-width="0.75"/>
<polygon points="439.7,382.16 445.3,382.16 442.5,387.19" fill="#e2282c" stroke="#200" stroke-width="0.75"/>
<polygon points="459.5,388.36 465.1,388.36 462.3,393.39" fill="#e2282c" stroke="#200" stroke-width="0.75"/>
<polygon points="479.2,389.52 484.8,389.52 482,394.56" fill="#e2282c" stroke="#200" stroke-width="0.75"/>
<polygon points="498.4,389.13 504,389.13 501.2,394.17" fill="#e2282c" stroke="#200" stroke-width="0.75"/>
<line x1="479" y1="302.6" x2="488.2" y2="302.6" stroke="#111" stroke-width="0.9"/>
<rect x="481.7" y="300.8" width="3.6" height="3.6" fill="#e2282c" stroke="#200" stroke-width="0.75"/>
<text x="491.1" y="304.7" font-size="6.1" stroke="#111" stroke-width="0.12">U937</text>
<line x1="479" y1="312.3" x2="488.2" y2="312.3" stroke="#111" stroke-width="0.9"/>
<circle cx="483.5" cy="312.3" r="2.2" fill="#e2282c" stroke="#200" stroke-width="0.75"/>
<text x="491.1" y="314.4" font-size="6.1" stroke="#111" stroke-width="0.12">K562</text>
<line x1="479" y1="322" x2="488.2" y2="322" stroke="#111" stroke-width="0.9"/>
<polygon points="480.7,319.48 486.3,319.48 483.5,324.52" fill="#e2282c" stroke="#200" stroke-width="0.75"/>
<text x="491.1" y="324.1" font-size="6.1" stroke="#111" stroke-width="0.12">BJAB</text>
<text x="6.4" y="468.65" font-size="10.9" font-weight="bold" textLength="7.77" lengthAdjust="spacingAndGlyphs" fill="#000" stroke="#000" stroke-width="0.25">F</text>
<line x1="34.9" y1="490.4" x2="34.9" y2="565.1" stroke="#000" stroke-width="1.1"/>
<line x1="32.1" y1="564.6" x2="34.9" y2="564.6" stroke="#000" stroke-width="0.9"/>
<text x="30.2" y="566.75" font-size="6" text-anchor="end" fill="#1a1a1a" stroke="#1a1a1a" stroke-width="0.12">0</text>
<line x1="32.1" y1="550.26" x2="34.9" y2="550.26" stroke="#000" stroke-width="0.9"/>
<text x="30.2" y="552.41" font-size="6" text-anchor="end" fill="#1a1a1a" stroke="#1a1a1a" stroke-width="0.12">20</text>
<line x1="32.1" y1="535.92" x2="34.9" y2="535.92" stroke="#000" stroke-width="0.9"/>
<text x="30.2" y="538.07" font-size="6" text-anchor="end" fill="#1a1a1a" stroke="#1a1a1a" stroke-width="0.12">40</text>
<line x1="32.1" y1="521.58" x2="34.9" y2="521.58" stroke="#000" stroke-width="0.9"/>
<text x="30.2" y="523.73" font-size="6" text-anchor="end" fill="#1a1a1a" stroke="#1a1a1a" stroke-width="0.12">60</text>
<line x1="32.1" y1="507.24" x2="34.9" y2="507.24" stroke="#000" stroke-width="0.9"/>
<text x="30.2" y="509.39" font-size="6" text-anchor="end" fill="#1a1a1a" stroke="#1a1a1a" stroke-width="0.12">80</text>
<line x1="32.1" y1="492.9" x2="34.9" y2="492.9" stroke="#000" stroke-width="0.9"/>
<text x="30.2" y="495.05" font-size="6" text-anchor="end" fill="#1a1a1a" stroke="#1a1a1a" stroke-width="0.12">100</text>
<line x1="34.4" y1="564.6" x2="79.1" y2="564.6" stroke="#000" stroke-width="1.1"/>
<line x1="46.8" y1="564.6" x2="46.8" y2="566.8" stroke="#000" stroke-width="0.8"/>
<line x1="68.3" y1="564.6" x2="68.3" y2="566.8" stroke="#000" stroke-width="0.8"/>
<text x="57.4" y="479.6" font-size="8.2" text-anchor="middle" textLength="19.4" lengthAdjust="spacingAndGlyphs" stroke="#111" stroke-width="0.12">K562</text>
<line x1="46.8" y1="492.9" x2="68.3" y2="493.62" stroke="#111" stroke-width="0.9"/>
<circle cx="46.8" cy="492.9" r="2.2" fill="#e2282c" stroke="#200" stroke-width="0.75"/>
<circle cx="68.3" cy="493.62" r="2.2" fill="#e2282c" stroke="#200" stroke-width="0.75"/>
<text x="49.8" y="574" font-size="6" text-anchor="end" transform="rotate(-45 49.8 574)" textLength="20.8" lengthAdjust="spacingAndGlyphs" stroke="#111" stroke-width="0.12">medium</text>
<text x="71.3" y="574" font-size="6" text-anchor="end" transform="rotate(-45 71.3 574)" textLength="27.5" lengthAdjust="spacingAndGlyphs" stroke="#111" stroke-width="0.12">a-DNAM-1</text>
<line x1="104.9" y1="490.4" x2="104.9" y2="565.1" stroke="#000" stroke-width="1.1"/>
<line x1="102.1" y1="564.6" x2="104.9" y2="564.6" stroke="#000" stroke-width="0.9"/>
<text x="99.3" y="566.75" font-size="6" text-anchor="end" fill="#1a1a1a" stroke="#1a1a1a" stroke-width="0.12">0</text>
<line x1="102.1" y1="550.26" x2="104.9" y2="550.26" stroke="#000" stroke-width="0.9"/>
<text x="99.3" y="552.41" font-size="6" text-anchor="end" fill="#1a1a1a" stroke="#1a1a1a" stroke-width="0.12">20</text>
<line x1="102.1" y1="535.92" x2="104.9" y2="535.92" stroke="#000" stroke-width="0.9"/>
<text x="99.3" y="538.07" font-size="6" text-anchor="end" fill="#1a1a1a" stroke="#1a1a1a" stroke-width="0.12">40</text>
<line x1="102.1" y1="521.58" x2="104.9" y2="521.58" stroke="#000" stroke-width="0.9"/>
<text x="99.3" y="523.73" font-size="6" text-anchor="end" fill="#1a1a1a" stroke="#1a1a1a" stroke-width="0.12">60</text>
<line x1="102.1" y1="507.24" x2="104.9" y2="507.24" stroke="#000" stroke-width="0.9"/>
<text x="99.3" y="509.39" font-size="6" text-anchor="end" fill="#1a1a1a" stroke="#1a1a1a" stroke-width="0.12">80</text>
<line x1="102.1" y1="492.9" x2="104.9" y2="492.9" stroke="#000" stroke-width="0.9"/>
<text x="99.3" y="495.05" font-size="6" text-anchor="end" fill="#1a1a1a" stroke="#1a1a1a" stroke-width="0.12">100</text>
<line x1="104.4" y1="564.6" x2="147.7" y2="564.6" stroke="#000" stroke-width="1.1"/>
<line x1="116" y1="564.6" x2="116" y2="566.8" stroke="#000" stroke-width="0.8"/>
<line x1="137.2" y1="564.6" x2="137.2" y2="566.8" stroke="#000" stroke-width="0.8"/>
<text x="126.3" y="479.6" font-size="8.2" text-anchor="middle" textLength="19.4" lengthAdjust="spacingAndGlyphs" stroke="#111" stroke-width="0.12">K562</text>
<text x="126.3" y="488" font-size="5" text-anchor="middle" textLength="16.2" lengthAdjust="spacingAndGlyphs" fill="#222" stroke="#222" stroke-width="0.12">p=0.12</text>
<line x1="116" y1="492.9" x2="137.2" y2="507.96" stroke="#111" stroke-width="0.9"/>
<line x1="116" y1="492.9" x2="137.2" y2="520.5" stroke="#111" stroke-width="0.9"/>
<line x1="116" y1="492.9" x2="137.2" y2="525.52" stroke="#111" stroke-width="0.9"/>
<line x1="116" y1="492.9" x2="137.2" y2="546.67" stroke="#111" stroke-width="0.9"/>
<circle cx="116" cy="492.9" r="2.2" fill="#e2282c" stroke="#200" stroke-width="0.75"/>
<circle cx="137.2" cy="507.96" r="2.2" fill="#e2282c" stroke="#200" stroke-width="0.75"/>
<circle cx="116" cy="492.9" r="2.2" fill="#e2282c" stroke="#200" stroke-width="0.75"/>
<circle cx="137.2" cy="520.5" r="2.2" fill="#e2282c" stroke="#200" stroke-width="0.75"/>
<circle cx="116" cy="492.9" r="2.2" fill="#e2282c" stroke="#200" stroke-width="0.75"/>
<circle cx="137.2" cy="525.52" r="2.2" fill="#e2282c" stroke="#200" stroke-width="0.75"/>
<circle cx="116" cy="492.9" r="2.2" fill="#e2282c" stroke="#200" stroke-width="0.75"/>
<circle cx="137.2" cy="546.67" r="2.2" fill="#e2282c" stroke="#200" stroke-width="0.75"/>
<text x="119" y="574" font-size="6" text-anchor="end" transform="rotate(-45 119 574)" textLength="20.8" lengthAdjust="spacingAndGlyphs" stroke="#111" stroke-width="0.12">medium</text>
<text x="140.2" y="574" font-size="6" text-anchor="end" transform="rotate(-45 140.2 574)" textLength="23.5" lengthAdjust="spacingAndGlyphs" stroke="#111" stroke-width="0.12">a-NKp30</text>
<line x1="172.1" y1="490.4" x2="172.1" y2="565.1" stroke="#000" stroke-width="1.1"/>
<line x1="169.3" y1="564.6" x2="172.1" y2="564.6" stroke="#000" stroke-width="0.9"/>
<text x="168" y="566.75" font-size="6" text-anchor="end" fill="#1a1a1a" stroke="#1a1a1a" stroke-width="0.12">0</text>
<line x1="169.3" y1="550.26" x2="172.1" y2="550.26" stroke="#000" stroke-width="0.9"/>
<text x="168" y="552.41" font-size="6" text-anchor="end" fill="#1a1a1a" stroke="#1a1a1a" stroke-width="0.12">20</text>
<line x1="169.3" y1="535.92" x2="172.1" y2="535.92" stroke="#000" stroke-width="0.9"/>
<text x="168" y="538.07" font-size="6" text-anchor="end" fill="#1a1a1a" stroke="#1a1a1a" stroke-width="0.12">40</text>
<line x1="169.3" y1="521.58" x2="172.1" y2="521.58" stroke="#000" stroke-width="0.9"/>
<text x="168" y="523.73" font-size="6" text-anchor="end" fill="#1a1a1a" stroke="#1a1a1a" stroke-width="0.12">60</text>
<line x1="169.3" y1="507.24" x2="172.1" y2="507.24" stroke="#000" stroke-width="0.9"/>
<text x="168" y="509.39" font-size="6" text-anchor="end" fill="#1a1a1a" stroke="#1a1a1a" stroke-width="0.12">80</text>
<line x1="169.3" y1="492.9" x2="172.1" y2="492.9" stroke="#000" stroke-width="0.9"/>
<text x="168" y="495.05" font-size="6" text-anchor="end" fill="#1a1a1a" stroke="#1a1a1a" stroke-width="0.12">100</text>
<line x1="171.6" y1="564.6" x2="216.8" y2="564.6" stroke="#000" stroke-width="1.1"/>
<line x1="183.4" y1="564.6" x2="183.4" y2="566.8" stroke="#000" stroke-width="0.8"/>
<line x1="206" y1="564.6" x2="206" y2="566.8" stroke="#000" stroke-width="0.8"/>
<text x="194.8" y="479.6" font-size="8.2" text-anchor="middle" textLength="19.4" lengthAdjust="spacingAndGlyphs" stroke="#111" stroke-width="0.12">BJAB</text>
<text x="194.8" y="488" font-size="5" text-anchor="middle" textLength="19.12" lengthAdjust="spacingAndGlyphs" fill="#222" stroke="#222" stroke-width="0.12">p=0.015</text>
<line x1="183.4" y1="492.9" x2="206" y2="503.65" stroke="#111" stroke-width="0.9"/>
<line x1="183.4" y1="495.05" x2="206" y2="508.67" stroke="#111" stroke-width="0.9"/>
<line x1="183.4" y1="497.92" x2="206" y2="510.82" stroke="#111" stroke-width="0.9"/>
<line x1="183.4" y1="498.64" x2="206" y2="515.84" stroke="#111" stroke-width="0.9"/>
<line x1="183.4" y1="515.84" x2="206" y2="528.75" stroke="#111" stroke-width="0.9"/>
<line x1="183.4" y1="518" x2="206" y2="534.49" stroke="#111" stroke-width="0.9"/>
<line x1="183.4" y1="525.16" x2="206" y2="564.6" stroke="#111" stroke-width="0.9"/>
<polygon points="180.7,490.47 186.1,490.47 183.4,495.33" fill="#e2282c" stroke="#200" stroke-width="0.75"/>
<polygon points="203.3,501.22 208.7,501.22 206,506.08" fill="#e2282c" stroke="#200" stroke-width="0.75"/>
<polygon points="180.7,492.62 186.1,492.62 183.4,497.48" fill="#e2282c" stroke="#200" stroke-width="0.75"/>
<polygon points="203.3,506.24 208.7,506.24 206,511.1" fill="#e2282c" stroke="#200" stroke-width="0.75"/>
<polygon points="180.7,495.49 186.1,495.49 183.4,500.35" fill="#e2282c" stroke="#200" stroke-width="0.75"/>
<polygon points="203.3,508.39 208.7,508.39 206,513.25" fill="#e2282c" stroke="#200" stroke-width="0.75"/>
<polygon points="180.7,496.21 186.1,496.21 183.4,501.07" fill="#e2282c" stroke="#200" stroke-width="0.75"/>
<polygon points="203.3,513.41 208.7,513.41 206,518.27" fill="#e2282c" stroke="#200" stroke-width="0.75"/>
<polygon points="180.7,513.41 186.1,513.41 183.4,518.27" fill="#e2282c" stroke="#200" stroke-width="0.75"/>
<polygon points="203.3,526.32 208.7,526.32 206,531.18" fill="#e2282c" stroke="#200" stroke-width="0.75"/>
<polygon points="180.7,515.57 186.1,515.57 183.4,520.42" fill="#e2282c" stroke="#200" stroke-width="0.75"/>
<polygon points="203.3,532.06 208.7,532.06 206,536.92" fill="#e2282c" stroke="#200" stroke-width="0.75"/>
<polygon points="180.7,522.74 186.1,522.74 183.4,527.59" fill="#e2282c" stroke="#200" stroke-width="0.75"/>
<polygon points="203.3,562.17 208.7,562.17 206,567.03" fill="#e2282c" stroke="#200" stroke-width="0.75"/>
<text x="186.4" y="574" font-size="6" text-anchor="end" transform="rotate(-45 186.4 574)" textLength="20.8" lengthAdjust="spacingAndGlyphs" stroke="#111" stroke-width="0.12">medium</text>
<text x="209" y="574" font-size="6" text-anchor="end" transform="rotate(-45 209 574)" textLength="30" lengthAdjust="spacingAndGlyphs" stroke="#111" stroke-width="0.12">TRAIL - DR</text>
<line x1="240.4" y1="490.4" x2="240.4" y2="565.1" stroke="#000" stroke-width="1.1"/>
<line x1="237.6" y1="564.6" x2="240.4" y2="564.6" stroke="#000" stroke-width="0.9"/>
<text x="236.8" y="566.75" font-size="6" text-anchor="end" fill="#1a1a1a" stroke="#1a1a1a" stroke-width="0.12">0</text>
<line x1="237.6" y1="550.26" x2="240.4" y2="550.26" stroke="#000" stroke-width="0.9"/>
<text x="236.8" y="552.41" font-size="6" text-anchor="end" fill="#1a1a1a" stroke="#1a1a1a" stroke-width="0.12">20</text>
<line x1="237.6" y1="535.92" x2="240.4" y2="535.92" stroke="#000" stroke-width="0.9"/>
<text x="236.8" y="538.07" font-size="6" text-anchor="end" fill="#1a1a1a" stroke="#1a1a1a" stroke-width="0.12">40</text>
<line x1="237.6" y1="521.58" x2="240.4" y2="521.58" stroke="#000" stroke-width="0.9"/>
<text x="236.8" y="523.73" font-size="6" text-anchor="end" fill="#1a1a1a" stroke="#1a1a1a" stroke-width="0.12">60</text>
<line x1="237.6" y1="507.24" x2="240.4" y2="507.24" stroke="#000" stroke-width="0.9"/>
<text x="236.8" y="509.39" font-size="6" text-anchor="end" fill="#1a1a1a" stroke="#1a1a1a" stroke-width="0.12">80</text>
<line x1="237.6" y1="492.9" x2="240.4" y2="492.9" stroke="#000" stroke-width="0.9"/>
<text x="236.8" y="495.05" font-size="6" text-anchor="end" fill="#1a1a1a" stroke="#1a1a1a" stroke-width="0.12">100</text>
<line x1="239.9" y1="564.6" x2="276.5" y2="564.6" stroke="#000" stroke-width="1.1"/>
<line x1="249.6" y1="564.6" x2="249.6" y2="566.8" stroke="#000" stroke-width="0.8"/>
<line x1="269.3" y1="564.6" x2="269.3" y2="566.8" stroke="#000" stroke-width="0.8"/>
<text x="259" y="479.6" font-size="8.2" text-anchor="middle" textLength="19.4" lengthAdjust="spacingAndGlyphs" stroke="#111" stroke-width="0.12">U937</text>
<text x="259" y="488" font-size="5" text-anchor="middle" textLength="16.2" lengthAdjust="spacingAndGlyphs" fill="#222" stroke="#222" stroke-width="0.12">p=0.06</text>
<line x1="249.6" y1="501.5" x2="269.3" y2="534.49" stroke="#111" stroke-width="0.9"/>
<line x1="249.6" y1="509.39" x2="269.3" y2="542.37" stroke="#111" stroke-width="0.9"/>
<line x1="249.6" y1="515.13" x2="269.3" y2="524.45" stroke="#111" stroke-width="0.9"/>
<line x1="249.6" y1="520.86" x2="269.3" y2="526.6" stroke="#111" stroke-width="0.9"/>
<polygon points="246.9,499.07 252.3,499.07 249.6,503.93" fill="#e2282c" stroke="#200" stroke-width="0.75"/>
<polygon points="266.6,532.06 272,532.06 269.3,536.92" fill="#e2282c" stroke="#200" stroke-width="0.75"/>
<polygon points="246.9,506.96 252.3,506.96 249.6,511.82" fill="#e2282c" stroke="#200" stroke-width="0.75"/>
<polygon points="266.6,539.94 272,539.94 269.3,544.8" fill="#e2282c" stroke="#200" stroke-width="0.75"/>
<polygon points="246.9,512.7 252.3,512.7 249.6,517.56" fill="#e2282c" stroke="#200" stroke-width="0.75"/>
<polygon points="266.6,522.02 272,522.02 269.3,526.88" fill="#e2282c" stroke="#200" stroke-width="0.75"/>
<polygon points="246.9,518.43 252.3,518.43 249.6,523.29" fill="#e2282c" stroke="#200" stroke-width="0.75"/>
<polygon points="266.6,524.17 272,524.17 269.3,529.03" fill="#e2282c" stroke="#200" stroke-width="0.75"/>
<text x="252.6" y="574" font-size="6" text-anchor="end" transform="rotate(-45 252.6 574)" textLength="20.8" lengthAdjust="spacingAndGlyphs" stroke="#111" stroke-width="0.12">medium</text>
<text x="272.3" y="574" font-size="6" text-anchor="end" transform="rotate(-45 272.3 574)" textLength="24" lengthAdjust="spacingAndGlyphs" stroke="#111" stroke-width="0.12">a-NKp80</text>
<text x="12.7" y="527.6" font-size="6.4" text-anchor="middle" transform="rotate(-90 12.7 527.6)" textLength="44.4" lengthAdjust="spacingAndGlyphs" fill="#1a1a1a" stroke="#1a1a1a" stroke-width="0.35">Specific lysis (%)</text>
<text x="367.2" y="468.75" font-size="10.9" font-weight="bold" textLength="8.57" lengthAdjust="spacingAndGlyphs" fill="#000" stroke="#000" stroke-width="0.25">G</text>
<line x1="394.4" y1="491.8" x2="394.4" y2="565.6" stroke="#000" stroke-width="1.1"/>
<line x1="391.6" y1="565.1" x2="394.4" y2="565.1" stroke="#000" stroke-width="0.9"/>
<text x="388.5" y="567.32" font-size="6.2" text-anchor="end" fill="#1a1a1a" stroke="#1a1a1a" stroke-width="0.12">0</text>
<line x1="391.6" y1="551.04" x2="394.4" y2="551.04" stroke="#000" stroke-width="0.9"/>
<text x="388.5" y="553.26" font-size="6.2" text-anchor="end" fill="#1a1a1a" stroke="#1a1a1a" stroke-width="0.12">20</text>
<line x1="391.6" y1="536.98" x2="394.4" y2="536.98" stroke="#000" stroke-width="0.9"/>
<text x="388.5" y="539.2" font-size="6.2" text-anchor="end" fill="#1a1a1a" stroke="#1a1a1a" stroke-width="0.12">40</text>
<line x1="391.6" y1="522.92" x2="394.4" y2="522.92" stroke="#000" stroke-width="0.9"/>
<text x="388.5" y="525.14" font-size="6.2" text-anchor="end" fill="#1a1a1a" stroke="#1a1a1a" stroke-width="0.12">60</text>
<line x1="391.6" y1="508.86" x2="394.4" y2="508.86" stroke="#000" stroke-width="0.9"/>
<text x="388.5" y="511.08" font-size="6.2" text-anchor="end" fill="#1a1a1a" stroke="#1a1a1a" stroke-width="0.12">80</text>
<line x1="391.6" y1="494.8" x2="394.4" y2="494.8" stroke="#000" stroke-width="0.9"/>
<text x="388.5" y="497.02" font-size="6.2" text-anchor="end" fill="#1a1a1a" stroke="#1a1a1a" stroke-width="0.12">100</text>
<line x1="393.9" y1="565.1" x2="493.4" y2="565.1" stroke="#000" stroke-width="1.1"/>
<line x1="402.6" y1="565.1" x2="402.6" y2="567.3" stroke="#000" stroke-width="0.8"/>
<text x="402.6" y="576" font-size="6.5" text-anchor="middle" textLength="11.68" lengthAdjust="spacingAndGlyphs" fill="#1a1a1a" stroke="#1a1a1a" stroke-width="0.12">30.1</text>
<line x1="419.9" y1="565.1" x2="419.9" y2="567.3" stroke="#000" stroke-width="0.8"/>
<text x="419.9" y="576" font-size="6.5" text-anchor="middle" textLength="11.68" lengthAdjust="spacingAndGlyphs" fill="#1a1a1a" stroke="#1a1a1a" stroke-width="0.12">10.1</text>
<line x1="437.4" y1="565.1" x2="437.4" y2="567.3" stroke="#000" stroke-width="0.8"/>
<text x="437.4" y="576" font-size="6.5" text-anchor="middle" textLength="8.34" lengthAdjust="spacingAndGlyphs" fill="#1a1a1a" stroke="#1a1a1a" stroke-width="0.12">3.1</text>
<line x1="454.4" y1="565.1" x2="454.4" y2="567.3" stroke="#000" stroke-width="0.8"/>
<text x="454.4" y="576" font-size="6.5" text-anchor="middle" textLength="8.34" lengthAdjust="spacingAndGlyphs" fill="#1a1a1a" stroke="#1a1a1a" stroke-width="0.12">1.1</text>
<line x1="471.3" y1="565.1" x2="471.3" y2="567.3" stroke="#000" stroke-width="0.8"/>
<text x="471.3" y="576" font-size="6.5" text-anchor="middle" textLength="13.34" lengthAdjust="spacingAndGlyphs" fill="#1a1a1a" stroke="#1a1a1a" stroke-width="0.12">0.3.1</text>
<line x1="488.9" y1="565.1" x2="488.9" y2="567.3" stroke="#000" stroke-width="0.8"/>
<text x="488.9" y="576" font-size="6.5" text-anchor="middle" textLength="13.34" lengthAdjust="spacingAndGlyphs" fill="#1a1a1a" stroke="#1a1a1a" stroke-width="0.12">0.1.1</text>
<text x="371.8" y="528" font-size="6.5" text-anchor="middle" transform="rotate(-90 371.8 528)" textLength="45" lengthAdjust="spacingAndGlyphs" fill="#1a1a1a" stroke="#1a1a1a" stroke-width="0.35">Specific lysis (%)</text>
<line x1="402.6" y1="530.93" x2="402.6" y2="540.21" stroke="#9cc8ec" stroke-width="0.9"/>
<line x1="400.4" y1="530.93" x2="404.8" y2="530.93" stroke="#9cc8ec" stroke-width="0.9"/>
<line x1="400.4" y1="540.21" x2="404.8" y2="540.21" stroke="#9cc8ec" stroke-width="0.9"/>
<line x1="419.9" y1="537.54" x2="419.9" y2="547.67" stroke="#9cc8ec" stroke-width="0.9"/>
<line x1="417.7" y1="537.54" x2="422.1" y2="537.54" stroke="#9cc8ec" stroke-width="0.9"/>
<line x1="417.7" y1="547.67" x2="422.1" y2="547.67" stroke="#9cc8ec" stroke-width="0.9"/>
<line x1="437.4" y1="545.06" x2="437.4" y2="553.5" stroke="#9cc8ec" stroke-width="0.9"/>
<line x1="435.2" y1="545.06" x2="439.6" y2="545.06" stroke="#9cc8ec" stroke-width="0.9"/>
<line x1="435.2" y1="553.5" x2="439.6" y2="553.5" stroke="#9cc8ec" stroke-width="0.9"/>
<line x1="471.3" y1="552.8" x2="471.3" y2="559.12" stroke="#9cc8ec" stroke-width="0.9"/>
<line x1="469.1" y1="552.8" x2="473.5" y2="552.8" stroke="#9cc8ec" stroke-width="0.9"/>
<line x1="469.1" y1="559.12" x2="473.5" y2="559.12" stroke="#9cc8ec" stroke-width="0.9"/>
<line x1="488.9" y1="556.17" x2="488.9" y2="561.8" stroke="#9cc8ec" stroke-width="0.9"/>
<line x1="486.7" y1="556.17" x2="491.1" y2="556.17" stroke="#9cc8ec" stroke-width="0.9"/>
<line x1="486.7" y1="561.8" x2="491.1" y2="561.8" stroke="#9cc8ec" stroke-width="0.9"/>
<line x1="419.9" y1="495.08" x2="419.9" y2="504.36" stroke="#e68a8a" stroke-width="0.9"/>
<line x1="417.7" y1="495.08" x2="422.1" y2="495.08" stroke="#e68a8a" stroke-width="0.9"/>
<line x1="417.7" y1="504.36" x2="422.1" y2="504.36" stroke="#e68a8a" stroke-width="0.9"/>
<line x1="437.4" y1="499.44" x2="437.4" y2="512.66" stroke="#e68a8a" stroke-width="0.9"/>
<line x1="435.2" y1="499.44" x2="439.6" y2="499.44" stroke="#e68a8a" stroke-width="0.9"/>
<line x1="435.2" y1="512.66" x2="439.6" y2="512.66" stroke="#e68a8a" stroke-width="0.9"/>
<line x1="454.4" y1="523.48" x2="454.4" y2="545.56" stroke="#e68a8a" stroke-width="0.9"/>
<line x1="452.2" y1="523.48" x2="456.6" y2="523.48" stroke="#e68a8a" stroke-width="0.9"/>
<line x1="452.2" y1="545.56" x2="456.6" y2="545.56" stroke="#e68a8a" stroke-width="0.9"/>
<line x1="471.3" y1="539.79" x2="471.3" y2="560.18" stroke="#e68a8a" stroke-width="0.9"/>
<line x1="469.1" y1="539.79" x2="473.5" y2="539.79" stroke="#e68a8a" stroke-width="0.9"/>
<line x1="469.1" y1="560.18" x2="473.5" y2="560.18" stroke="#e68a8a" stroke-width="0.9"/>
<line x1="488.9" y1="554.48" x2="488.9" y2="564.05" stroke="#e68a8a" stroke-width="0.9"/>
<line x1="486.7" y1="554.48" x2="491.1" y2="554.48" stroke="#e68a8a" stroke-width="0.9"/>
<line x1="486.7" y1="564.05" x2="491.1" y2="564.05" stroke="#e68a8a" stroke-width="0.9"/>
<polyline points="402.6,535.57 419.9,542.6 437.4,549.28 454.4,552.45 471.3,555.96 488.9,558.98" stroke="#7fb6e2" stroke-width="1.1" fill="none"/>
<polyline points="402.6,495.5 419.9,499.72 437.4,506.05 454.4,534.52 471.3,549.99 488.9,559.27" stroke="#111" stroke-width="1.1" fill="none"/>
<polygon points="399.6,498.2 405.6,498.2 402.6,492.8" fill="#e2282c" stroke="#200" stroke-width="0.75"/>
<polygon points="416.9,502.42 422.9,502.42 419.9,497.02" fill="#e2282c" stroke="#200" stroke-width="0.75"/>
<polygon points="434.4,508.75 440.4,508.75 437.4,503.35" fill="#e2282c" stroke="#200" stroke-width="0.75"/>
<polygon points="451.4,537.22 457.4,537.22 454.4,531.82" fill="#e2282c" stroke="#200" stroke-width="0.75"/>
<polygon points="468.3,552.69 474.3,552.69 471.3,547.29" fill="#e2282c" stroke="#200" stroke-width="0.75"/>
<polygon points="485.9,561.97 491.9,561.97 488.9,556.57" fill="#e2282c" stroke="#200" stroke-width="0.75"/>
<polygon points="399.6,538.27 405.6,538.27 402.6,532.87" fill="#e2282c" stroke="#200" stroke-width="0.75"/>
<polygon points="416.9,545.3 422.9,545.3 419.9,539.9" fill="#e2282c" stroke="#200" stroke-width="0.75"/>
<polygon points="434.4,551.98 440.4,551.98 437.4,546.58" fill="#e2282c" stroke="#200" stroke-width="0.75"/>
<polygon points="451.4,555.15 457.4,555.15 454.4,549.75" fill="#e2282c" stroke="#200" stroke-width="0.75"/>
<polygon points="468.3,558.66 474.3,558.66 471.3,553.26" fill="#e2282c" stroke="#200" stroke-width="0.75"/>
<polygon points="485.9,561.68 491.9,561.68 488.9,556.28" fill="#e2282c" stroke="#200" stroke-width="0.75"/>
<circle cx="399.9" cy="482.8" r="0.85" fill="#111"/>
<circle cx="402.6" cy="482.8" r="0.85" fill="#111"/>
<circle cx="405.3" cy="482.8" r="0.85" fill="#111"/>
<circle cx="417.2" cy="482.8" r="0.85" fill="#111"/>
<circle cx="419.9" cy="482.8" r="0.85" fill="#111"/>
<circle cx="422.6" cy="482.8" r="0.85" fill="#111"/>
<circle cx="434.7" cy="482.8" r="0.85" fill="#111"/>
<circle cx="437.4" cy="482.8" r="0.85" fill="#111"/>
<circle cx="440.1" cy="482.8" r="0.85" fill="#111"/>
<line x1="418.7" y1="584.7" x2="428.2" y2="584.7" stroke="#111" stroke-width="1"/>
<polygon points="420.5,587.4 426.5,587.4 423.5,582" fill="#e2282c" stroke="#200" stroke-width="0.75"/>
<text x="431.5" y="586.6" font-size="5.2" textLength="28" lengthAdjust="spacingAndGlyphs" stroke="#111" stroke-width="0.12">WT 721.221</text>
<line x1="418.7" y1="593.2" x2="428.2" y2="593.2" stroke="#7fb6e2" stroke-width="1"/>
<polygon points="420.5,595.9 426.5,595.9 423.5,590.5" fill="#e2282c" stroke="#200" stroke-width="0.75"/>
<text x="431.5" y="595.1" font-size="5.2" textLength="36.6" lengthAdjust="spacingAndGlyphs" stroke="#111" stroke-width="0.12">HLA-E+721.221</text>
<path d="M0 0H520V603H0Z M1 1V601.8H518.8V1Z" fill="#000" fill-rule="evenodd"/>
</g></svg>
</body></html>
